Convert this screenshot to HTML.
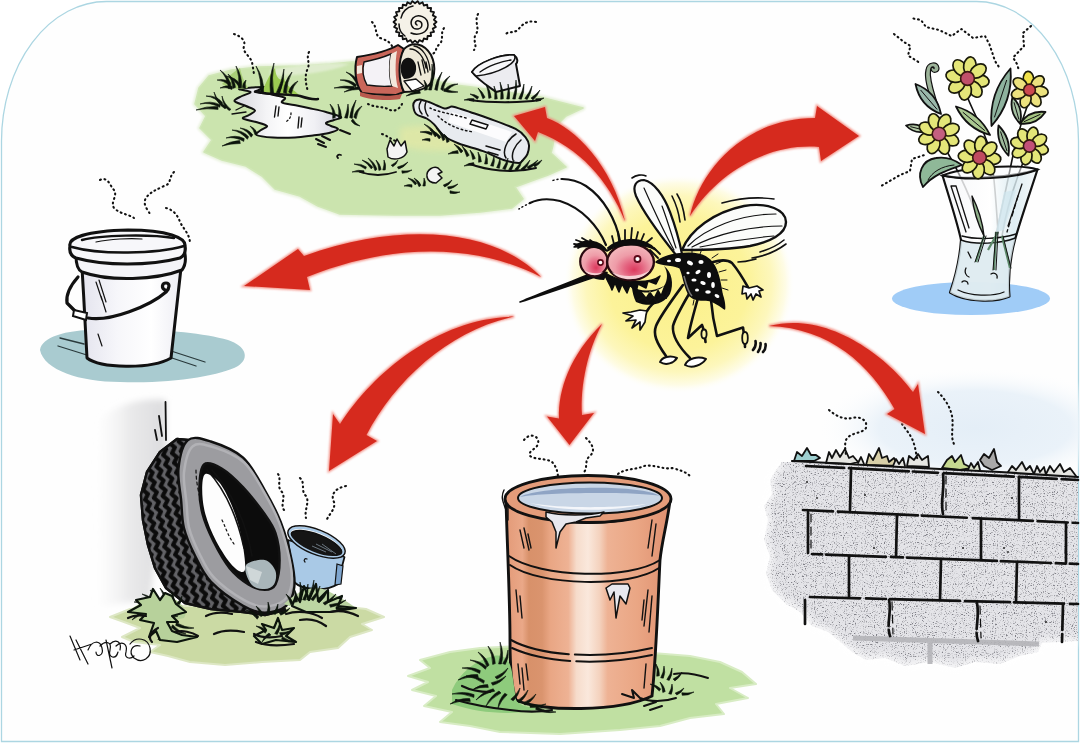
<!DOCTYPE html>
<html><head><meta charset="utf-8">
<style>
html,body{margin:0;padding:0;background:#fff;}
body{width:1080px;height:743px;overflow:hidden;font-family:"Liberation Sans",sans-serif;}
svg{display:block}
.k{fill:none;stroke:#111;stroke-linecap:round;stroke-linejoin:round}
</style></head><body>
<svg width="1080" height="743" viewBox="0 0 1080 743">
<defs>
<filter id="b1" x="-10%" y="-10%" width="120%" height="120%"><feGaussianBlur stdDeviation="1.2"/></filter>
<filter id="b3" x="-20%" y="-20%" width="140%" height="140%"><feGaussianBlur stdDeviation="3"/></filter>
<filter id="b8" x="-30%" y="-30%" width="160%" height="160%"><feGaussianBlur stdDeviation="8"/></filter>
<radialGradient id="glow" cx="50%" cy="50%" r="50%">
<stop offset="0" stop-color="#fdf48c"/><stop offset="0.55" stop-color="#fdf6a4"/><stop offset="0.8" stop-color="#fefbd8"/><stop offset="1" stop-color="#ffffff" stop-opacity="0"/>
</radialGradient>
</defs>
<rect width="1080" height="743" fill="#fff"/>
<!--FRAME-->
<path d="M1.5 741.5 V141 A105 140 0 0 1 106.5 1.5 H976.5 A102 140 0 0 1 1078.5 141 V741.5 Z" fill="#fefefe" stroke="#acd6e2" stroke-width="1.3"/>
<g id="sky">
<defs><radialGradient id="skyg" cx="50%" cy="50%" r="50%"><stop offset="0" stop-color="#e4eef7"/><stop offset="0.6" stop-color="#eaf2f9"/><stop offset="1" stop-color="#ffffff" stop-opacity="0"/></radialGradient></defs>
<ellipse cx="975" cy="428" rx="160" ry="62" fill="url(#skyg)"/>
</g>

<g id="glowg">
<defs><radialGradient id="glow2" cx="50%" cy="50%" r="50%">
<stop offset="0" stop-color="#fbf088"/><stop offset="0.6" stop-color="#fcf39a"/><stop offset="0.8" stop-color="#fdf7bc"/><stop offset="0.92" stop-color="#fefce6"/><stop offset="1" stop-color="#ffffff" stop-opacity="0"/>
</radialGradient></defs>
<ellipse cx="679" cy="284" rx="116" ry="110" fill="url(#glow2)"/>
</g>

<g id="trash">
<path d="M195 104 L199 88 L209 76 L232 70 L258 67 L300 66 L330 64 L352 62 L380 63 L420 72 L440 82 L455 85 L472 87 L500 91 L540 97 L583 108 L566 116 L556 126 L553 145 L551 153 L566 167 L548 175 L534 180 L515 187 L523 199 L512 208 L480 212 L440 215 L395 215 L340 214 L318 206 L300 196 L275 189 L262 176 L246 166 L222 160 L204 152 L212 140 L200 128 L206 116 Z" fill="#dcebc8" stroke="#e8f2dc" stroke-width="5" stroke-linejoin="round" filter="url(#b1)"/>
<path d="M195 104 L199 88 L209 76 L232 70 L258 67 L300 66 L330 64 L352 62 L380 63 L420 72 L440 82 L455 85 L472 87 L500 91 L540 97 L583 108 L566 116 L556 126 L553 145 L551 153 L566 167 L548 175 L534 180 L515 187 L523 199 L512 208 L480 212 L440 215 L395 215 L340 214 L318 206 L300 196 L275 189 L262 176 L246 166 L222 160 L204 152 L212 140 L200 128 L206 116 Z" fill="#cbe4ae" stroke="#d0e7b6" stroke-width="1.500" stroke-linejoin="round"/>
<path d="M400 128 C430 123 470 128 490 140 C470 152 430 154 400 146 Z" fill="#e2e8a6" opacity="0.8" filter="url(#b3)"/>
<path d="M270 70 C300 64 330 62 350 64 C330 72 300 76 270 76 Z" fill="#e4efd6" opacity="0.8" filter="url(#b1)"/>
<defs><linearGradient id="pg" x1="0" x2="1"><stop offset="0" stop-color="#d6d6dc"/><stop offset="0.3" stop-color="#f4f4f6"/><stop offset="0.5" stop-color="#ffffff"/><stop offset="0.75" stop-color="#f0f0f4"/><stop offset="1" stop-color="#d2d2dc"/></linearGradient></defs>
<path d="M239.0 89.0 C238.8 89.8 250.0 90.8 250.5 92.0 C251.0 93.2 244.7 94.5 242.0 96.0 C239.3 97.5 233.8 99.3 234.5 101.0 C235.2 102.7 242.6 104.4 246.0 106.0 C249.4 107.6 254.5 109.0 255.0 110.5 C255.5 112.0 251.0 113.7 249.0 115.0 C247.0 116.3 241.8 117.3 243.0 118.5 C244.2 119.7 252.0 120.8 256.0 122.0 C260.0 123.2 266.2 124.7 267.0 126.0 C267.8 127.3 262.8 128.5 261.0 130.0 C259.2 131.5 254.5 133.8 256.5 135.0 C258.5 136.2 266.6 137.1 273.0 137.5 C279.4 137.9 288.3 137.8 295.0 137.5 C301.7 137.2 307.3 136.2 313.0 135.5 C318.7 134.8 324.8 134.1 329.0 133.0 C333.2 131.9 337.7 130.2 338.0 129.0 C338.3 127.8 333.0 127.0 331.0 126.0 C329.0 125.0 325.5 124.0 326.0 123.0 C326.5 122.0 331.5 121.0 334.0 120.0 C336.5 119.0 342.3 118.3 341.0 117.0 C339.7 115.7 331.4 113.5 326.0 112.0 C320.6 110.5 313.8 109.2 308.5 108.0 C303.2 106.8 298.4 105.9 294.0 105.0 C289.6 104.1 283.5 103.7 282.0 102.5 C280.5 101.3 286.0 99.2 285.0 98.0 C284.0 96.8 279.0 96.2 276.0 95.5 C273.0 94.8 270.5 94.1 267.0 93.5 C263.5 92.9 256.2 92.7 255.0 92.0 C253.8 91.3 258.5 90.3 260.0 89.5 C261.5 88.7 265.3 87.3 264.0 87.0 C262.7 86.7 256.2 87.2 252.0 87.5 C247.8 87.8 239.2 88.2 239.0 89.0 Z" fill="url(#pg)" stroke="#111" stroke-width="2" stroke-linejoin="round"/>
<path class="k" stroke-width="1.400" d="M276 106 L274.500 117 M279 107 L278 116 M299 117 L298 128 M302 118 L301 127"/>
<path class="k" stroke-width="1.300" stroke-dasharray="1.500 2.500" d="M291 113 C291 118 288 121 285 122"/>
<path d="M262 92 C267 80 270 74 275 68 C276 78 280 82 284 78 C286 86 292 88 299 95 C286 96 272 94 262 92 Z" fill="#9ccb52"/>
<path d="M222 84 C228 76 234 72 240 68 C242 78 246 84 248 88 C238 90 228 88 222 84 Z" fill="#a9cf78"/>
<path d="M263.6 92.7 Q264.3 78.3 256.0 66.0 Q261.8 78.9 260.4 93.3 Z" fill="#0c140c" stroke="#0c140c" stroke-width="0.6" stroke-linejoin="round"/><path d="M273.6 93.1 Q271.3 77.9 274.0 63.0 Q268.7 77.7 270.4 92.9 Z" fill="#0c140c" stroke="#0c140c" stroke-width="0.6" stroke-linejoin="round"/><path d="M279.6 93.4 Q284.6 81.9 284.0 69.0 Q282.2 81.3 276.4 92.6 Z" fill="#0c140c" stroke="#0c140c" stroke-width="0.6" stroke-linejoin="round"/><path d="M286.5 93.5 Q286.6 81.9 292.0 72.0 Q284.1 81.0 283.5 92.5 Z" fill="#0c140c" stroke="#0c140c" stroke-width="0.6" stroke-linejoin="round"/><path d="M291.3 93.9 Q292.7 86.1 298.0 81.0 Q290.5 84.7 288.7 92.1 Z" fill="#0c140c" stroke="#0c140c" stroke-width="0.6" stroke-linejoin="round"/>
<path class="k" stroke-width="2.400" d="M258 92 C268 95 290 94 300 96 C306 98 312 100 318 99"/>
<path d="M231.3 87.3 Q229.6 76.4 220.0 70.0 Q227.6 77.6 228.7 88.7 Z" fill="#0c140c" stroke="#0c140c" stroke-width="0.6" stroke-linejoin="round"/><path d="M235.4 87.4 Q234.9 79.3 228.0 74.0 Q232.7 80.3 232.6 88.6 Z" fill="#0c140c" stroke="#0c140c" stroke-width="0.6" stroke-linejoin="round"/><path d="M241.5 87.7 Q242.5 76.2 236.0 66.0 Q240.1 76.6 238.5 88.3 Z" fill="#0c140c" stroke="#0c140c" stroke-width="0.6" stroke-linejoin="round"/><path d="M245.5 88.4 Q244.6 83.9 246.0 80.0 Q242.2 83.3 242.5 87.6 Z" fill="#0c140c" stroke="#0c140c" stroke-width="0.6" stroke-linejoin="round"/>
<path d="M230.4 82.7 Q224.6 78.3 217.0 80.0 Q224.0 80.5 229.6 85.3 Z" fill="#0c140c" stroke="#0c140c" stroke-width="0.6" stroke-linejoin="round"/>
<path d="M232.0 86.6 Q226.0 84.5 220.0 88.0 Q226.0 86.7 232.0 89.4 Z" fill="#0c140c" stroke="#0c140c" stroke-width="0.6" stroke-linejoin="round"/>
<path d="M240.8 84.9 Q235.7 77.3 226.0 76.0 Q234.3 79.1 239.2 87.1 Z" fill="#0c140c" stroke="#0c140c" stroke-width="0.6" stroke-linejoin="round"/>
<path d="M222.6 102.8 Q216.5 95.1 206.0 96.0 Q215.5 96.9 221.4 105.2 Z" fill="#0c140c" stroke="#0c140c" stroke-width="0.6" stroke-linejoin="round"/>
<path d="M220.1 104.7 Q210.5 100.0 200.0 104.0 Q210.3 102.0 219.9 107.3 Z" fill="#0c140c" stroke="#0c140c" stroke-width="0.6" stroke-linejoin="round"/>
<path d="M217.9 106.6 Q206.7 105.7 196.0 110.0 Q206.9 107.9 218.1 109.4 Z" fill="#0c140c" stroke="#0c140c" stroke-width="0.6" stroke-linejoin="round"/>
<path d="M227.0 107.2 Q217.6 101.8 214.0 92.0 Q216.0 103.0 225.0 108.8 Z" fill="#0c140c" stroke="#0c140c" stroke-width="0.6" stroke-linejoin="round"/>
<path d="M231.0 109.4 Q224.0 104.1 222.0 96.0 Q222.4 105.1 229.0 110.6 Z" fill="#0c140c" stroke="#0c140c" stroke-width="0.6" stroke-linejoin="round"/>
<path d="M252.8 134.8 Q248.2 128.7 240.0 128.0 Q247.0 130.5 251.2 137.2 Z" fill="#0c140c" stroke="#0c140c" stroke-width="0.6" stroke-linejoin="round"/>
<path d="M248.6 136.7 Q242.1 129.8 232.0 130.0 Q241.1 131.8 247.4 139.3 Z" fill="#0c140c" stroke="#0c140c" stroke-width="0.6" stroke-linejoin="round"/>
<path d="M244.2 138.6 Q235.5 134.3 226.0 138.0 Q235.3 136.5 243.8 141.4 Z" fill="#0c140c" stroke="#0c140c" stroke-width="0.6" stroke-linejoin="round"/>
<path d="M239.7 140.5 Q230.3 141.0 222.0 146.0 Q230.9 143.4 240.3 143.5 Z" fill="#0c140c" stroke="#0c140c" stroke-width="0.6" stroke-linejoin="round"/>
<path d="M257.0 133.2 Q255.4 128.2 250.0 126.0 Q253.8 129.4 255.0 134.8 Z" fill="#0c140c" stroke="#0c140c" stroke-width="0.6" stroke-linejoin="round"/>
<path class="k" stroke-width="1.300" d="M232 114 L246 112 M236 110 L244 106"/>
<path d="M335.3 117.6 Q335.9 109.9 330.0 104.0 Q333.7 110.5 332.7 118.4 Z" fill="#0c140c" stroke="#0c140c" stroke-width="0.6" stroke-linejoin="round"/><path d="M341.4 117.8 Q341.5 110.6 338.0 104.0 Q339.3 111.0 338.6 118.2 Z" fill="#0c140c" stroke="#0c140c" stroke-width="0.6" stroke-linejoin="round"/><path d="M347.4 118.2 Q349.5 111.4 348.0 104.0 Q347.3 111.0 344.6 117.8 Z" fill="#0c140c" stroke="#0c140c" stroke-width="0.6" stroke-linejoin="round"/><path d="M352.3 118.4 Q352.8 108.8 356.0 100.0 Q350.6 108.2 349.7 117.6 Z" fill="#0c140c" stroke="#0c140c" stroke-width="0.6" stroke-linejoin="round"/><path d="M356.2 118.7 Q357.1 111.2 362.0 106.0 Q355.1 110.0 353.8 117.3 Z" fill="#0c140c" stroke="#0c140c" stroke-width="0.6" stroke-linejoin="round"/>
<path d="M351.2 121.0 Q354.2 125.4 360.0 126.0 Q355.4 123.8 352.8 119.0 Z" fill="#0c140c" stroke="#0c140c" stroke-width="0.6" stroke-linejoin="round"/>
<path class="k" stroke-width="2" d="M316 139 L324 143 M318 144 L326 147 M322 136 L330 140 M340 130 L350 134"/>
<path d="M356.5 84.7 Q349.6 78.8 340.0 80.0 Q348.8 80.8 355.5 87.3 Z" fill="#0c140c" stroke="#0c140c" stroke-width="0.6" stroke-linejoin="round"/>
<path d="M354.0 86.6 Q344.0 84.9 334.0 88.0 Q344.0 87.1 354.0 89.4 Z" fill="#0c140c" stroke="#0c140c" stroke-width="0.6" stroke-linejoin="round"/>
<path d="M359.0 83.0 Q355.2 74.8 346.0 72.0 Q353.6 76.4 357.0 85.0 Z" fill="#0c140c" stroke="#0c140c" stroke-width="0.6" stroke-linejoin="round"/>
<path d="M359.7 86.7 Q351.3 87.4 344.0 92.0 Q351.9 89.4 360.3 89.3 Z" fill="#0c140c" stroke="#0c140c" stroke-width="0.6" stroke-linejoin="round"/>
<path d="M436.5 22.0 L433.9 24.2 L435.9 27.0 L432.8 28.6 L434.0 31.8 L430.6 32.6 L431.1 36.0 L427.6 35.9 L427.2 39.3 L423.8 38.5 L422.6 41.7 L419.5 40.1 L417.6 42.9 L415.0 40.6 L412.4 42.9 L410.5 40.1 L407.4 41.7 L406.2 38.5 L402.8 39.3 L402.4 35.9 L398.9 36.0 L399.4 32.6 L396.0 31.8 L397.2 28.6 L394.1 27.0 L396.1 24.2 L393.5 22.0 L396.1 19.8 L394.1 17.0 L397.2 15.4 L396.0 12.2 L399.4 11.4 L398.9 8.0 L402.4 8.1 L402.8 4.7 L406.2 5.5 L407.4 2.3 L410.5 3.9 L412.4 1.1 L415.0 3.4 L417.6 1.1 L419.5 3.9 L422.6 2.3 L423.8 5.5 L427.2 4.7 L427.6 8.1 L431.1 8.0 L430.6 11.4 L434.0 12.2 L432.8 15.4 L435.9 17.0 L433.9 19.8 Z" fill="#f5f2e8" stroke="#111" stroke-width="1.800" stroke-linejoin="round"/>
<path class="k" stroke-width="1.500" d="M417 25 C414 23 416 20 419 21 C423 22 423 28 418 29 C412 30 409 23 413 18 C418 13 428 17 428 25 C428 33 418 36 411 33 M401 18 C402 12 407 7 413 6 M399 24 C399 30 402 34 405 36"/>
<path d="M357 57 C370 55 388 51 398 45 L404 49 C400 58 398 80 404 92 L396 95 C384 95 368 94 362 93 C355 84 354 68 357 57 Z" fill="#c9665a" stroke="#111" stroke-width="2" stroke-linejoin="round"/>
<path d="M364 62 C374 60 384 57 391 54 C389 64 389 78 392 86 C384 87 374 86 367 85 C363 78 362 70 364 62 Z" fill="#f4f2f6" stroke="#111" stroke-width="1.400"/>
<path d="M391 54 L397 51 C395 62 395 78 398 88 L392 86 C389 78 389 64 391 54 Z" fill="#f3e8dc"/>
<path d="M357 66 L362 65 L362 73 L357 74 Z" fill="#f3e8dc"/>
<path d="M360 92 C372 96 390 97 402 94 L400 99 C388 101 370 100 360 96 Z" fill="#b85a4e"/>
<path d="M404 49 C412 41 424 43 431 55 C437 67 434 82 428 86 C420 92 408 92 404 92 C398 80 398 60 404 49 Z" fill="#eee9d8" stroke="#111" stroke-width="2"/>
<path d="M402 62 C406 55 414 57 416 66 C417 75 412 79 404 79 C400 74 400 66 402 62 Z" fill="#111"/>
<path class="k" stroke-width="1.300" d="M410 49 C418 49 424 57 426 68 M414 46 C422 47 429 57 430 70 M418 62 L421 75 M422 60 L425 73 M426 62 L428 72"/>
<path d="M404 81 L416 79 L424 86 L412 91 Z" fill="#fff" stroke="#111" stroke-width="1.300" stroke-linejoin="round"/>
<path d="M427.4 89.7 Q428.1 84.4 424.0 80.0 Q425.9 84.8 424.6 90.3 Z" fill="#0c140c" stroke="#0c140c" stroke-width="0.6" stroke-linejoin="round"/><path d="M431.4 90.1 Q434.7 77.3 432.0 64.0 Q432.5 77.1 428.6 89.9 Z" fill="#0c140c" stroke="#0c140c" stroke-width="0.6" stroke-linejoin="round"/><path d="M437.3 90.4 Q438.3 80.8 442.0 72.0 Q436.1 80.0 434.7 89.6 Z" fill="#0c140c" stroke="#0c140c" stroke-width="0.6" stroke-linejoin="round"/><path d="M443.2 90.7 Q444.2 82.0 450.0 76.0 Q442.2 80.8 440.8 89.3 Z" fill="#0c140c" stroke="#0c140c" stroke-width="0.6" stroke-linejoin="round"/><path d="M446.6 91.3 Q451.3 85.6 458.0 84.0 Q450.3 83.6 445.4 88.7 Z" fill="#0c140c" stroke="#0c140c" stroke-width="0.6" stroke-linejoin="round"/>
<path d="M419.6 90.8 Q412.3 91.6 406.0 96.0 Q412.9 93.6 420.4 93.2 Z" fill="#0c140c" stroke="#0c140c" stroke-width="0.6" stroke-linejoin="round"/>
<path d="M443.8 91.3 Q450.7 93.4 458.0 92.0 Q450.9 91.4 444.2 88.7 Z" fill="#0c140c" stroke="#0c140c" stroke-width="0.6" stroke-linejoin="round"/>
<path d="M472 72 C476 64 500 54 514 55 C518 58 518 62 516 64 L520 86 L496 92 C488 86 478 80 472 72 Z" fill="#ececf0" stroke="#111" stroke-width="2" stroke-linejoin="round"/>
<path d="M472 72 C478 62 502 54 514 55 C520 62 498 74 476 76 Z" fill="#f7f7f9" stroke="#111" stroke-width="1.600"/>
<path d="M480 72 C488 66 502 61 511 60" class="k" stroke-width="1.300"/>
<path d="M478.6 96.8 Q474.9 94.3 470.0 94.0 Q473.9 96.1 477.4 99.2 Z" fill="#0c140c" stroke="#0c140c" stroke-width="0.6" stroke-linejoin="round"/>
<path d="M485.1 97.3 Q482.9 91.9 478.0 88.0 Q481.1 92.9 482.9 98.7 Z" fill="#0c140c" stroke="#0c140c" stroke-width="0.6" stroke-linejoin="round"/>
<path d="M491.2 97.6 Q490.4 90.3 486.0 84.0 Q488.4 90.9 488.8 98.4 Z" fill="#0c140c" stroke="#0c140c" stroke-width="0.6" stroke-linejoin="round"/>
<path d="M497.3 98.8 Q497.3 92.1 494.0 86.0 Q495.3 92.5 494.7 99.2 Z" fill="#0c140c" stroke="#0c140c" stroke-width="0.6" stroke-linejoin="round"/>
<path d="M503.3 98.8 Q503.7 90.2 500.0 82.0 Q501.7 90.4 500.7 99.2 Z" fill="#0c140c" stroke="#0c140c" stroke-width="0.6" stroke-linejoin="round"/>
<path d="M509.3 99.0 Q510.5 91.5 508.0 84.0 Q508.5 91.5 506.7 99.0 Z" fill="#0c140c" stroke="#0c140c" stroke-width="0.6" stroke-linejoin="round"/>
<path d="M515.3 99.1 Q517.9 89.8 516.0 80.0 Q515.9 89.6 512.7 98.9 Z" fill="#0c140c" stroke="#0c140c" stroke-width="0.6" stroke-linejoin="round"/>
<path d="M521.3 99.3 Q524.5 92.2 524.0 84.0 Q522.5 91.6 518.7 98.7 Z" fill="#0c140c" stroke="#0c140c" stroke-width="0.6" stroke-linejoin="round"/>
<path d="M527.2 99.5 Q531.2 93.5 532.0 86.0 Q529.4 92.7 524.8 98.5 Z" fill="#0c140c" stroke="#0c140c" stroke-width="0.6" stroke-linejoin="round"/>
<path d="M533.0 99.9 Q537.7 96.0 540.0 90.0 Q536.1 94.6 531.0 98.1 Z" fill="#0c140c" stroke="#0c140c" stroke-width="0.6" stroke-linejoin="round"/>
<path d="M474.0 98.7 Q469.0 98.0 464.0 100.0 Q469.0 100.0 474.0 101.3 Z" fill="#0c140c" stroke="#0c140c" stroke-width="0.6" stroke-linejoin="round"/>
<path d="M536.3 101.3 Q540.5 100.8 544.0 98.0 Q539.9 98.8 535.7 98.7 Z" fill="#0c140c" stroke="#0c140c" stroke-width="0.6" stroke-linejoin="round"/>
<path class="k" stroke-width="2.200" d="M470 100 C490 103 520 103 540 100"/>
<path d="M413.3 106.0 C413.1 103.8 414.0 102.1 415.0 101.0 C416.0 99.9 417.8 99.6 419.3 99.5 C420.8 99.4 422.3 100.0 424.0 100.5 C425.7 101.0 427.4 101.4 429.6 102.2 C431.8 103.0 434.5 104.5 437.0 105.5 C439.5 106.5 442.4 108.2 444.4 108.5 C446.4 108.8 447.5 107.8 449.0 107.5 C450.5 107.2 449.8 106.0 453.3 106.7 C456.8 107.5 464.1 110.0 470.0 112.0 C475.9 114.0 481.3 115.7 488.9 118.5 C496.5 121.3 509.4 125.7 515.6 128.9 C521.8 132.1 523.7 135.1 525.9 137.8 C528.1 140.5 528.8 142.5 529.0 145.2 C529.2 147.9 528.4 151.6 527.4 154.1 C526.4 156.6 524.5 158.5 523.0 160.0 C521.5 161.5 521.7 163.0 518.5 163.0 C515.3 163.0 509.6 162.0 503.7 160.0 C497.8 158.0 490.4 153.8 483.0 151.1 C475.6 148.4 465.7 146.2 459.3 143.7 C452.9 141.2 448.6 139.5 444.4 136.3 C440.2 133.1 437.1 127.4 434.1 124.4 C431.2 121.4 429.7 120.2 426.7 118.5 C423.7 116.8 418.5 116.2 416.3 114.1 C414.1 112.0 413.5 108.2 413.3 106.0 Z" fill="#e8ebef" stroke="#111" stroke-width="2" stroke-linejoin="round"/>
<path d="M452 112 L512 132 L506 142 L448 122 Z" fill="#fff" opacity="0.85"/>
<path class="k" stroke-width="1.500" d="M516 134 C506 140 502 152 506 158 M521 140 C514 146 511 154 513 160 M472 120 L488 125 L486 129 L470 124 Z M421 101 C418 106 419 111 422 114 M426 102 C424 106 425 112 428 116 M486 146 L500 150 M488 152 L498 155"/>
<path class="k" stroke-width="1.500" stroke-dasharray="1.500 3" d="M430 108 C438 112 452 114 466 118 M438 116 C446 124 458 130 474 132"/>
<path d="M436.9 135.1 Q432.5 127.5 424.0 124.0 Q431.1 128.9 435.1 136.9 Z" fill="#0c140c" stroke="#0c140c" stroke-width="0.6" stroke-linejoin="round"/>
<path d="M440.8 137.0 Q436.8 131.7 430.0 130.0 Q435.6 133.3 439.2 139.0 Z" fill="#0c140c" stroke="#0c140c" stroke-width="0.6" stroke-linejoin="round"/>
<path d="M445.1 139.3 Q442.7 132.2 436.0 128.0 Q440.9 133.4 442.9 140.7 Z" fill="#0c140c" stroke="#0c140c" stroke-width="0.6" stroke-linejoin="round"/>
<path d="M449.2 141.4 Q448.1 136.9 444.0 134.0 Q446.3 137.9 446.8 142.6 Z" fill="#0c140c" stroke="#0c140c" stroke-width="0.6" stroke-linejoin="round"/>
<path d="M432.2 132.7 Q426.5 130.2 420.0 132.0 Q426.1 132.2 431.8 135.3 Z" fill="#0c140c" stroke="#0c140c" stroke-width="0.6" stroke-linejoin="round"/>
<path d="M430.0 138.7 Q426.0 137.8 422.0 140.0 Q426.0 139.8 430.0 141.3 Z" fill="#0c140c" stroke="#0c140c" stroke-width="0.6" stroke-linejoin="round"/>
<path d="M463.0 151.0 Q459.6 146.4 454.0 144.0 Q458.0 148.0 461.0 153.0 Z" fill="#0c140c" stroke="#0c140c" stroke-width="0.6" stroke-linejoin="round"/>
<path d="M469.2 155.3 Q467.0 149.8 462.0 146.0 Q465.0 151.0 466.8 156.7 Z" fill="#0c140c" stroke="#0c140c" stroke-width="0.6" stroke-linejoin="round"/>
<path d="M475.3 158.4 Q473.9 153.6 470.0 150.0 Q471.9 154.6 472.7 159.6 Z" fill="#0c140c" stroke="#0c140c" stroke-width="0.6" stroke-linejoin="round"/>
<path d="M481.4 161.7 Q481.1 156.6 478.0 152.0 Q478.9 157.0 478.6 162.3 Z" fill="#0c140c" stroke="#0c140c" stroke-width="0.6" stroke-linejoin="round"/>
<path d="M487.4 164.0 Q488.1 159.0 486.0 154.0 Q485.9 159.0 484.6 164.0 Z" fill="#0c140c" stroke="#0c140c" stroke-width="0.6" stroke-linejoin="round"/>
<path d="M493.4 166.3 Q495.1 161.4 494.0 156.0 Q492.9 161.0 490.6 165.7 Z" fill="#0c140c" stroke="#0c140c" stroke-width="0.6" stroke-linejoin="round"/>
<path d="M499.4 168.3 Q501.1 163.4 500.0 158.0 Q498.9 163.0 496.6 167.7 Z" fill="#0c140c" stroke="#0c140c" stroke-width="0.6" stroke-linejoin="round"/>
<path d="M505.3 169.5 Q508.2 164.3 508.0 158.0 Q506.0 163.5 502.7 168.5 Z" fill="#0c140c" stroke="#0c140c" stroke-width="0.6" stroke-linejoin="round"/>
<path d="M511.3 170.5 Q514.0 165.8 514.0 160.0 Q512.0 165.0 508.7 169.5 Z" fill="#0c140c" stroke="#0c140c" stroke-width="0.6" stroke-linejoin="round"/>
<path d="M517.2 170.7 Q521.0 166.2 522.0 160.0 Q519.0 165.0 514.8 169.3 Z" fill="#0c140c" stroke="#0c140c" stroke-width="0.6" stroke-linejoin="round"/>
<path d="M523.1 170.9 Q527.9 166.5 530.0 160.0 Q526.1 165.1 520.9 169.1 Z" fill="#0c140c" stroke="#0c140c" stroke-width="0.6" stroke-linejoin="round"/>
<path d="M528.9 169.1 Q534.5 165.9 538.0 160.0 Q533.1 164.1 527.1 166.9 Z" fill="#0c140c" stroke="#0c140c" stroke-width="0.6" stroke-linejoin="round"/>
<path d="M457.7 150.6 Q452.6 150.9 448.0 154.0 Q453.0 153.1 458.3 153.4 Z" fill="#0c140c" stroke="#0c140c" stroke-width="0.6" stroke-linejoin="round"/>
<path d="M473.7 162.6 Q468.6 162.9 464.0 166.0 Q469.0 165.1 474.3 165.4 Z" fill="#0c140c" stroke="#0c140c" stroke-width="0.6" stroke-linejoin="round"/>
<path d="M534.8 167.1 Q539.3 164.7 542.0 160.0 Q537.9 162.9 533.2 164.9 Z" fill="#0c140c" stroke="#0c140c" stroke-width="0.6" stroke-linejoin="round"/>
<path class="k" stroke-width="2" d="M470 164 C486 170 512 174 536 168"/>
<path d="M387 149 L390 140 L394 146 L397 139 L401 146 L405 141 L407 152 C404 159 394 161 388 157 Z" fill="#f4f4f4" stroke="#111" stroke-width="1.500" stroke-linejoin="round"/>
<path d="M427 177 C426 169 434 166 438 168 L442 172 L438 174 L442 178 L436 183 C432 183 428 181 427 177 Z" fill="#f4f4f4" stroke="#111" stroke-width="1.500" stroke-linejoin="round"/>
<path d="M372.7 167.1 Q368.8 161.8 362.0 160.0 Q367.6 163.2 371.3 168.9 Z" fill="#0c140c" stroke="#0c140c" stroke-width="0.6" stroke-linejoin="round"/>
<path d="M377.0 169.3 Q374.6 162.3 368.0 158.0 Q373.0 163.3 375.0 170.7 Z" fill="#0c140c" stroke="#0c140c" stroke-width="0.6" stroke-linejoin="round"/>
<path d="M381.1 169.6 Q380.4 164.0 376.0 160.0 Q378.6 164.8 378.9 170.4 Z" fill="#0c140c" stroke="#0c140c" stroke-width="0.6" stroke-linejoin="round"/>
<path d="M385.2 170.0 Q386.5 165.0 384.0 160.0 Q384.5 165.0 382.8 170.0 Z" fill="#0c140c" stroke="#0c140c" stroke-width="0.6" stroke-linejoin="round"/>
<path d="M366.4 166.9 Q360.9 163.3 354.0 164.0 Q360.3 165.1 365.6 169.1 Z" fill="#0c140c" stroke="#0c140c" stroke-width="0.6" stroke-linejoin="round"/>
<path d="M364.0 170.8 Q358.0 169.2 352.0 172.0 Q358.0 171.2 364.0 173.2 Z" fill="#0c140c" stroke="#0c140c" stroke-width="0.6" stroke-linejoin="round"/>
<path d="M392.8 166.8 Q396.6 164.6 398.0 160.0 Q395.2 163.2 391.2 165.2 Z" fill="#0c140c" stroke="#0c140c" stroke-width="0.6" stroke-linejoin="round"/>
<path d="M398.6 169.0 Q404.4 167.3 408.0 162.0 Q403.4 165.7 397.4 167.0 Z" fill="#0c140c" stroke="#0c140c" stroke-width="0.6" stroke-linejoin="round"/>
<path d="M402.2 173.2 Q407.5 173.4 412.0 170.0 Q407.1 171.6 401.8 170.8 Z" fill="#0c140c" stroke="#0c140c" stroke-width="0.6" stroke-linejoin="round"/>
<path class="k" stroke-width="1.800" d="M360 172 C372 176 384 176 396 172 M338 158 C336 156 338 154 341 155"/>
<path d="M416.7 183.0 Q413.5 179.0 408.0 178.0 Q412.3 180.6 415.3 185.0 Z" fill="#0c140c" stroke="#0c140c" stroke-width="0.6" stroke-linejoin="round"/>
<path d="M421.0 185.3 Q419.0 180.5 414.0 178.0 Q417.4 181.7 419.0 186.7 Z" fill="#0c140c" stroke="#0c140c" stroke-width="0.6" stroke-linejoin="round"/>
<path d="M425.2 186.0 Q426.2 182.0 424.0 178.0 Q424.2 182.0 422.8 186.0 Z" fill="#0c140c" stroke="#0c140c" stroke-width="0.6" stroke-linejoin="round"/>
<path d="M412.0 184.8 Q408.0 183.8 404.0 186.0 Q408.0 185.8 412.0 187.2 Z" fill="#0c140c" stroke="#0c140c" stroke-width="0.6" stroke-linejoin="round"/>
<path d="M444.7 187.0 Q449.5 185.0 452.0 180.0 Q448.3 183.4 443.3 185.0 Z" fill="#0c140c" stroke="#0c140c" stroke-width="0.6" stroke-linejoin="round"/>
<path d="M448.4 189.1 Q454.0 188.4 458.0 184.0 Q453.2 186.6 447.6 186.9 Z" fill="#0c140c" stroke="#0c140c" stroke-width="0.6" stroke-linejoin="round"/>
<path d="M450.0 193.2 Q455.0 194.5 460.0 192.0 Q455.0 192.5 450.0 190.8 Z" fill="#0c140c" stroke="#0c140c" stroke-width="0.6" stroke-linejoin="round"/>
<g class="k" stroke="#2c2c2c" stroke-width="2.100" stroke-dasharray="0.900 3.700">
<path d="M234 34 C240 36 246 40 244 46 C242 52 250 56 252 62 L254 74"/>
<path d="M309 52 C306 58 310 62 308 68 C304 76 306 84 308 92"/>
<path d="M372 22 C378 28 374 34 380 38 C386 40 390 42 392 46"/>
<path d="M444 28 C440 34 444 38 440 44 C434 48 438 52 432 54"/>
<path d="M478 14 C474 22 480 28 476 34 C472 40 478 46 474 50"/>
<path d="M536 22 C528 20 522 24 518 30 C512 34 508 30 504 36"/>
<path d="M368 104 C376 108 384 106 390 110 C396 112 400 108 402 104"/>
<path d="M382 134 C388 136 392 140 398 142"/>
</g>
</g>
<g id="bucket">
<defs><linearGradient id="bk" x1="0" x2="1"><stop offset="0" stop-color="#e4e4ee"/><stop offset="0.35" stop-color="#f6f6fa"/><stop offset="0.7" stop-color="#ffffff"/><stop offset="1" stop-color="#eeeef4"/></linearGradient></defs>
<!-- puddle -->
<path d="M40 350 C42 336 70 328 110 330 C150 328 200 332 228 340 C246 346 250 358 238 366 C220 376 170 384 120 382 C80 382 44 370 40 350 Z" fill="#a9cbd0"/>
<path d="M60 338 L84 344 M58 346 L90 356 M168 350 L205 362 M172 358 L196 366" stroke="#2a3a3c" stroke-width="1.300" fill="none" stroke-linecap="round"/>
<!-- body -->
<path d="M82 268 C84 300 86 340 87 358 C100 368 150 370 171 358 C174 330 178 296 181 268 Z" fill="url(#bk)" stroke="#111" stroke-width="3" stroke-linejoin="round"/>
<!-- lower ring -->
<path d="M76 256 C76 266 78 270 82 272 C110 282 156 280 182 270 C185 266 186 260 185 254 Z" fill="#f4f4f8" stroke="#111" stroke-width="3" stroke-linejoin="round"/>
<!-- top rim -->
<path d="M70 246 C68 238 86 231 128 230 C168 230 186 238 185 246 C186 252 184 256 180 258 C150 266 104 266 76 258 C71 256 69 252 70 246 Z" fill="#f7f7fa" stroke="#111" stroke-width="3.200" stroke-linejoin="round"/>
<path class="k" stroke-width="2.400" d="M72 247 C100 255 156 254 184 246 M82 240 C100 235 150 234 174 238"/>
<path class="k" stroke-width="1.200" d="M96 242 C110 239 130 238 142 239"/>
<!-- handle -->
<path class="k" stroke-width="3.200" d="M78 277 C70 286 66 296 67 303 L76 312 M88 318 C110 322 150 306 166 292 C170 288 170 283 166 283 C162 283 161 288 165 290"/>
<path d="M74 310 L87 313 L86 320 L73 316 Z" fill="#fff" stroke="#111" stroke-width="2"/>
<path class="k" stroke-width="1.200" d="M96 282 L102 300 M99 280 L106 302 M101 296 L106 312 M98 334 L102 346"/>
<!-- flies -->
<g class="k" stroke="#2c2c2c" stroke-width="2.100" stroke-dasharray="0.900 3.700">
<path d="M100 180 C108 176 110 186 114 190 C118 196 110 202 114 208 C120 214 128 214 134 218"/>
<path d="M174 172 C168 178 172 184 164 186 C156 190 150 192 146 198 C142 204 148 210 150 214"/>
<path d="M166 208 C174 210 178 216 180 222 C184 230 190 234 190 244"/>
</g>
</g>

<g id="tire">
<defs><linearGradient id="wsh" x1="0" x2="1"><stop offset="0" stop-color="#f4f4f4" stop-opacity="0"/><stop offset="0.5" stop-color="#e9e9ea"/><stop offset="1" stop-color="#dcdcde"/></linearGradient></defs>
<path d="M100 420 C120 400 150 398 166 400 L166 470 L150 600 L98 606 C92 560 104 520 96 480 Z" fill="url(#wsh)" filter="url(#b3)"/>
<path class="k" stroke-width="1.800" d="M165.500 402 L166 440 M159 416 L162 436 M155 430 L157 440"/>
<path d="M110 617 L130 609 L160 606 L200 606 L260 610 L300 607 L340 606 L366 609 L384 617 L362 624 L372 630 L350 637 L338 648 L310 652 L300 660 L262 662 L225 665 L190 662 L168 656 L150 652 L160 645 L134 642 L122 637 L140 628 L124 622 Z" fill="#cbdaa4" stroke="#dde7c4" stroke-width="2" stroke-linejoin="round"/>
<path d="M288 540 C290 554 292 568 294 582 C302 590 326 592 338 584 C340 574 342 566 344.500 557 Z" fill="#a9c9e6" stroke="#111" stroke-width="1.800" stroke-linejoin="round"/>
<ellipse cx="316.500" cy="544" rx="27.500" ry="9.500" transform="rotate(22 316.500 544)" fill="#151515" stroke="#111" stroke-width="1.600"/>
<ellipse cx="316.500" cy="542.500" rx="29" ry="10.800" transform="rotate(22 316.500 542.500)" fill="none" stroke="#a9c9e6" stroke-width="2.400"/>
<ellipse cx="316.500" cy="542" rx="30.500" ry="12.300" transform="rotate(22 316.500 542)" fill="none" stroke="#111" stroke-width="1.500"/>
<path d="M337 564 L343 566 L341 584 L335 585 Z" fill="#7fa6cf" stroke="#111" stroke-width="1.200"/>
<path class="k" stroke-width="1.200" d="M305 562 C303 560 305 558 307 559"/>
<path d="M312 546 L326 552 M316 544 L332 552 M322 544 L336 554" stroke="#6a7680" stroke-width="1" fill="none"/>
<path d="M188 440 L177 439 L160 452 L147 472 L141 495 L143 520 L148 545 L155 568 L166 588 L185 603 L211 609 L243 612 L265 615 L285 610 L260 560 L200 470 Z" fill="#5a5a5e" stroke="#111" stroke-width="2.500" stroke-linejoin="round"/>
<clipPath id="trc"><path d="M188 440 L177 439 L160 452 L147 472 L141 495 L143 520 L148 545 L155 568 L166 588 L185 603 L211 609 L243 612 L265 615 L285 610 L260 560 L200 470 Z"/></clipPath>
<pattern id="zz" width="9" height="10" patternUnits="userSpaceOnUse" patternTransform="rotate(-12)"><rect width="9" height="10" fill="#626266"/><path d="M2 -1 L6 4 L2 9 L6 14" stroke="#0b0b0b" stroke-width="4.200" fill="none" stroke-linejoin="round"/></pattern>
<path d="M188 440 L177 439 L160 452 L147 472 L141 495 L143 520 L148 545 L155 568 L166 588 L185 603 L211 609 L243 612 L265 615 L285 610 L260 560 L200 470 Z" fill="url(#zz)" stroke="#111" stroke-width="2.500" stroke-linejoin="round"/>
<path d="M187.9 440.2 C193.3 435.7 201.6 438.6 210.8 441.5 C220.0 444.4 234.1 449.6 243.1 457.7 C252.1 465.8 258.4 479.2 264.7 490.0 C271.0 500.8 276.3 510.6 280.8 522.3 C285.3 534.0 289.4 549.2 291.6 560.0 C293.9 570.8 295.2 579.4 294.3 587.0 C293.4 594.6 291.1 601.5 286.2 605.8 C281.3 610.1 271.9 612.6 264.7 612.6 C257.5 612.6 252.1 611.0 243.1 605.8 C234.1 600.6 218.9 590.1 210.8 581.6 C202.7 573.1 199.1 563.7 194.6 554.7 C190.1 545.7 186.1 536.7 183.9 527.7 C181.7 518.7 182.1 510.7 181.2 500.8 C180.3 490.9 177.4 478.6 178.5 468.5 C179.6 458.4 182.5 444.7 187.9 440.2 Z" fill="#9c9ca0" stroke="#111" stroke-width="2.400"/>
<path d="M192.8 446.2 C197.8 442.0 205.5 444.7 214.1 447.4 C222.6 450.1 235.7 455.0 244.1 462.5 C252.5 470.0 258.3 482.5 264.2 492.5 C270.0 502.5 275.0 511.7 279.2 522.6 C283.3 533.4 287.1 547.6 289.2 557.6 C291.3 567.6 292.6 575.6 291.7 582.7 C290.9 589.8 288.8 596.2 284.2 600.2 C279.6 604.2 270.9 606.5 264.2 606.5 C257.5 606.5 252.5 605.0 244.1 600.2 C235.7 595.4 221.6 585.6 214.1 577.7 C206.5 569.8 203.2 561.0 199.0 552.7 C194.8 544.3 191.1 535.9 189.0 527.6 C187.0 519.2 187.4 511.7 186.5 502.6 C185.7 493.4 183.0 481.9 184.0 472.5 C185.1 463.1 187.8 450.4 192.8 446.2 Z" fill="none" stroke="#b2b2b6" stroke-width="2.500"/>
<path d="M204.1 464.4 C207.8 461.3 215.1 464.7 221.6 468.5 C228.1 472.3 235.9 479.7 243.1 487.3 C250.3 494.9 259.3 506.7 264.7 514.3 C270.1 521.9 272.9 525.5 275.4 533.1 C277.9 540.7 279.5 551.5 279.5 560.0 C279.5 568.5 277.9 579.3 275.4 584.3 C272.9 589.2 269.2 589.7 264.7 589.7 C260.2 589.7 254.3 587.9 248.5 584.3 C242.7 580.7 235.5 575.3 229.7 568.1 C223.9 560.9 218.0 550.2 213.5 541.2 C209.0 532.2 205.0 523.3 202.7 514.3 C200.4 505.3 199.3 495.6 199.5 487.3 C199.7 479.0 200.4 467.5 204.1 464.4 Z" fill="#0c0c0c" stroke="#111" stroke-width="2.600"/>
<path d="M205.4 473.9 C208.2 472.6 214.9 477.5 218.9 482.0 C222.9 486.5 226.6 494.1 229.7 500.8 C232.8 507.5 235.5 514.7 237.7 522.3 C239.9 529.9 242.0 538.5 243.1 546.6 C244.2 554.7 246.3 567.7 244.5 570.8 C242.7 573.9 237.0 570.3 232.3 565.4 C227.6 560.5 220.7 549.7 216.2 541.2 C211.7 532.7 207.7 522.8 205.4 514.3 C203.1 505.8 202.2 496.7 202.2 490.0 C202.2 483.3 202.6 475.2 205.4 473.9 Z" fill="#fdfdfd"/>
<path d="M245.8 565.4 C248.1 561.4 259.8 559.1 264.7 560.0 C269.6 560.9 273.8 566.8 275.4 570.8 C277.0 574.8 275.9 581.2 274.1 584.3 C272.3 587.3 268.5 589.1 264.7 589.1 C260.9 589.1 254.3 588.2 251.2 584.3 C248.0 580.3 243.6 569.4 245.8 565.4 Z" fill="#a9b6ba"/>
<path d="M246 566 L262 572 L258 584 L250 580 Z" fill="#dfe6e6" opacity="0.700"/>
<path class="k" stroke-width="1.600" d="M207 470 C222 486 236 512 244 548 M212 470 C230 490 246 520 252 556"/>
<path class="k" stroke-width="1.200" stroke-dasharray="2 3" d="M222 520 C226 528 228 536 234 544"/>
<path class="k" stroke-width="1.200" stroke-dasharray="3 3" d="M196 470 C196 480 198 490 200 498"/>
<path d="M128 612 C140 600 160 594 176 600 C184 606 188 612 184 618 C170 622 146 620 128 612 Z" fill="#b4cf98"/>
<path d="M284 604 C296 592 312 584 326 590 C338 596 348 602 356 608 C336 612 304 612 284 604 Z" fill="#b9d3a0"/>
<path d="M149.7 606.6 Q138.2 605.6 128.0 612.0 Q138.6 607.8 150.3 609.4 Z" fill="#0c140c" stroke="#0c140c" stroke-width="0.6" stroke-linejoin="round"/>
<path d="M152.3 604.6 Q143.8 600.2 134.0 602.0 Q143.4 602.4 151.7 607.4 Z" fill="#0c140c" stroke="#0c140c" stroke-width="0.6" stroke-linejoin="round"/>
<path d="M156.8 602.9 Q151.2 596.0 142.0 594.0 Q149.8 597.8 155.2 605.1 Z" fill="#0c140c" stroke="#0c140c" stroke-width="0.6" stroke-linejoin="round"/>
<path d="M161.1 603.2 Q158.0 594.8 150.0 590.0 Q156.2 596.2 158.9 604.8 Z" fill="#0c140c" stroke="#0c140c" stroke-width="0.6" stroke-linejoin="round"/>
<path d="M167.3 601.4 Q166.1 593.7 160.0 588.0 Q164.1 594.5 164.7 602.6 Z" fill="#0c140c" stroke="#0c140c" stroke-width="0.6" stroke-linejoin="round"/>
<path d="M173.4 602.0 Q174.6 597.0 172.0 592.0 Q172.4 597.0 170.6 602.0 Z" fill="#0c140c" stroke="#0c140c" stroke-width="0.6" stroke-linejoin="round"/>
<path d="M179.3 604.6 Q182.2 601.1 182.0 596.0 Q180.2 600.1 176.7 603.4 Z" fill="#0c140c" stroke="#0c140c" stroke-width="0.6" stroke-linejoin="round"/>
<path d="M145.3 610.8 Q137.2 612.9 132.0 620.0 Q138.4 614.9 146.7 613.2 Z" fill="#0c140c" stroke="#0c140c" stroke-width="0.6" stroke-linejoin="round"/>
<path d="M160.0 617.4 Q169.0 619.8 178.0 616.0 Q169.0 617.6 160.0 614.6 Z" fill="#0c140c" stroke="#0c140c" stroke-width="0.6" stroke-linejoin="round"/>
<path d="M163.3 624.8 Q155.2 626.9 150.0 634.0 Q156.4 628.9 164.7 627.2 Z" fill="#0c140c" stroke="#0c140c" stroke-width="0.6" stroke-linejoin="round"/>
<path d="M166.9 627.1 Q160.3 631.8 158.0 640.0 Q162.1 633.2 169.1 628.9 Z" fill="#0c140c" stroke="#0c140c" stroke-width="0.6" stroke-linejoin="round"/>
<path d="M171.3 627.2 Q177.2 633.1 186.0 634.0 Q178.4 631.1 172.7 624.8 Z" fill="#0c140c" stroke="#0c140c" stroke-width="0.6" stroke-linejoin="round"/>
<path d="M175.7 625.4 Q184.2 629.8 194.0 628.0 Q184.6 627.6 176.3 622.6 Z" fill="#0c140c" stroke="#0c140c" stroke-width="0.6" stroke-linejoin="round"/>
<path d="M128 612 L141 605 L136 600 L150 597 L153 589 L160 600 L165 593 L172 596 L176 604 L186 612 L172 616 L178 622 L167 622 L172 631 L182 635 L197 637 L177 642 L160 640 L156 631 L149 637 L154 623 L140 620 L146 614 Z" fill="#b7d19b" stroke="#0c140c" stroke-width="2.200" stroke-linejoin="round"/>
<path d="M292 606 L296 596 L300 602 L304 586 L309 600 L316 584 L318 600 L328 590 L328 602 L342 596 L338 606 L356 608 L330 612 L306 612 Z" fill="#bcd5a2" stroke="#0c140c" stroke-width="2.200" stroke-linejoin="round"/>
<path d="M254 636 L266 630 L262 624 L274 628 L278 618 L282 630 L294 628 L286 636 L296 642 L276 640 L262 644 Z" fill="#bdd3a0" stroke="#0c140c" stroke-width="2.200" stroke-linejoin="round"/>
<path class="k" stroke-width="2.200" d="M128 618 C134 615 140 615 146 616 M158 628 C150 632 148 638 152 642 M176 632 C182 630 192 632 198 636"/>
<path d="M258.8 616.8 Q253.8 611.3 246.0 610.0 Q252.6 613.1 257.2 619.2 Z" fill="#0c140c" stroke="#0c140c" stroke-width="0.6" stroke-linejoin="round"/>
<path d="M263.2 615.3 Q261.5 609.5 256.0 606.0 Q259.5 610.7 260.8 616.7 Z" fill="#0c140c" stroke="#0c140c" stroke-width="0.6" stroke-linejoin="round"/>
<path d="M269.4 614.0 Q270.9 608.0 268.0 602.0 Q268.7 608.0 266.6 614.0 Z" fill="#0c140c" stroke="#0c140c" stroke-width="0.6" stroke-linejoin="round"/>
<path d="M275.3 614.5 Q278.5 610.0 278.0 604.0 Q276.5 609.2 272.7 613.5 Z" fill="#0c140c" stroke="#0c140c" stroke-width="0.6" stroke-linejoin="round"/>
<path d="M280.7 615.2 Q286.5 613.5 290.0 608.0 Q285.3 611.5 279.3 612.8 Z" fill="#0c140c" stroke="#0c140c" stroke-width="0.6" stroke-linejoin="round"/>
<path d="M266.7 630.8 Q262.5 626.5 256.0 626.0 Q261.3 628.5 265.3 633.2 Z" fill="#0c140c" stroke="#0c140c" stroke-width="0.6" stroke-linejoin="round"/>
<path d="M269.0 633.0 Q264.0 636.0 262.0 642.0 Q265.6 637.6 271.0 635.0 Z" fill="#0c140c" stroke="#0c140c" stroke-width="0.6" stroke-linejoin="round"/>
<path d="M277.3 634.4 Q280.9 629.0 280.0 622.0 Q278.7 628.2 274.7 633.6 Z" fill="#0c140c" stroke="#0c140c" stroke-width="0.6" stroke-linejoin="round"/>
<path d="M280.4 635.3 Q287.0 634.9 292.0 630.0 Q286.2 632.7 279.6 632.7 Z" fill="#0c140c" stroke="#0c140c" stroke-width="0.6" stroke-linejoin="round"/>
<path d="M281.6 639.3 Q288.1 643.2 296.0 642.0 Q288.7 641.0 282.4 636.7 Z" fill="#0c140c" stroke="#0c140c" stroke-width="0.6" stroke-linejoin="round"/>
<path class="k" stroke-width="2.200" d="M254 634 C262 638 272 638 282 636 M256 642 C266 646 280 646 294 644"/>
<path d="M293.2 603.3 Q291.2 597.7 286.0 594.0 Q289.2 598.9 290.8 604.7 Z" fill="#0c140c" stroke="#0c140c" stroke-width="0.6" stroke-linejoin="round"/>
<path d="M297.4 601.8 Q297.8 594.6 294.0 588.0 Q295.6 594.9 294.6 602.2 Z" fill="#0c140c" stroke="#0c140c" stroke-width="0.6" stroke-linejoin="round"/>
<path d="M301.4 600.0 Q303.3 591.0 300.0 582.0 Q301.0 591.0 298.6 600.0 Z" fill="#0c140c" stroke="#0c140c" stroke-width="0.6" stroke-linejoin="round"/>
<path d="M305.4 600.3 Q309.0 592.8 308.0 584.0 Q306.8 592.2 302.6 599.7 Z" fill="#0c140c" stroke="#0c140c" stroke-width="0.6" stroke-linejoin="round"/>
<path d="M309.3 600.4 Q314.5 591.0 314.0 580.0 Q312.3 590.4 306.7 599.6 Z" fill="#0c140c" stroke="#0c140c" stroke-width="0.6" stroke-linejoin="round"/>
<path d="M313.2 600.7 Q318.7 594.5 320.0 586.0 Q316.7 593.4 310.8 599.3 Z" fill="#0c140c" stroke="#0c140c" stroke-width="0.6" stroke-linejoin="round"/>
<path d="M319.1 602.9 Q325.3 597.9 328.0 590.0 Q323.6 596.5 316.9 601.1 Z" fill="#0c140c" stroke="#0c140c" stroke-width="0.6" stroke-linejoin="round"/>
<path d="M324.9 605.1 Q331.9 601.3 336.0 594.0 Q330.5 599.6 323.1 602.9 Z" fill="#0c140c" stroke="#0c140c" stroke-width="0.6" stroke-linejoin="round"/>
<path d="M330.5 607.3 Q339.1 606.0 346.0 600.0 Q338.3 603.9 329.5 604.7 Z" fill="#0c140c" stroke="#0c140c" stroke-width="0.6" stroke-linejoin="round"/>
<path d="M336.0 609.4 Q345.0 611.3 354.0 608.0 Q345.0 609.0 336.0 606.6 Z" fill="#0c140c" stroke="#0c140c" stroke-width="0.6" stroke-linejoin="round"/>
<path class="k" stroke-width="2.200" d="M206 616 C214 612 224 612 232 614 M214 634 C222 630 234 630 244 632 M286 614 C298 610 312 612 322 618 M330 612 C340 610 350 612 358 616 M300 620 C310 618 318 620 326 626"/>
<g class="k" stroke="#2c2c2c" stroke-width="2.100" stroke-dasharray="0.900 3.700">
<path d="M278 474 C282 480 276 486 282 492 C286 498 280 504 284 510"/>
<path d="M300 478 C306 484 300 490 306 496 C310 502 304 510 306 518"/>
<path d="M346 486 C336 488 330 494 334 502 C336 510 328 514 326 522"/>
</g>
</g>
<g id="barrel">
<defs><linearGradient id="bg" x1="0" x2="1"><stop offset="0" stop-color="#e39a78"/><stop offset="0.1" stop-color="#eaa888"/><stop offset="0.14" stop-color="#d8916a"/><stop offset="0.22" stop-color="#da946e"/><stop offset="0.27" stop-color="#e9a684"/><stop offset="0.38" stop-color="#eeb294"/><stop offset="0.43" stop-color="#f6dccb"/><stop offset="0.5" stop-color="#fae8dc"/><stop offset="0.57" stop-color="#f4d2be"/><stop offset="0.62" stop-color="#eeb294"/><stop offset="0.8" stop-color="#eaa684"/><stop offset="1" stop-color="#df9070"/></linearGradient></defs>
<!-- grass patch -->
<path d="M408 676 L430 668 L420 660 L450 652 L480 648 L520 646 L560 650 L640 652 L690 656 L720 662 L742 672 L756 684 L730 688 L748 698 L716 704 L724 714 L690 718 L660 726 L620 730 L560 734 L500 732 L470 726 L440 722 L452 712 L424 706 L436 696 L412 690 L428 682 Z" fill="#c0e0a2" stroke="#d8ecc4" stroke-width="2" stroke-linejoin="round"/>
<!-- body -->
<path d="M506 500 C507 540 510 600 510 640 C510 670 512 690 516 700 C540 712 620 712 652 696 C656 660 658 600 660 560 C662 540 668 520 670 500 C640 530 540 530 506 500 Z" fill="url(#bg)" stroke="#111" stroke-width="2.900" stroke-linejoin="round"/>
<!-- rim -->
<ellipse cx="588" cy="499" rx="83" ry="23.500" fill="#e49c7a" stroke="#111" stroke-width="2.900"/>
<ellipse cx="590" cy="498" rx="72" ry="15.500" fill="#c9d6e6" stroke="#111" stroke-width="2"/>
<path d="M520 497 C540 486 640 484 660 496 C640 492 545 492 520 497 Z" fill="#8fa4c4"/>
<path d="M530 503 C560 512 620 512 650 503 C630 508 560 509 530 503 Z" fill="#f4f6fa"/>
<!-- rings -->
<path class="k" stroke-width="2" d="M509 556 C540 578 630 580 660 560 M510 565 C540 586 630 588 659 568"/>
<path class="k" stroke-width="2" d="M511 640 C540 656 600 660 652 648 M512 648 C545 663 600 666 652 655" stroke-dasharray="60 6 80 4"/>
<!-- drips -->
<path d="M546 517 L552 522 L556 532 L556 548 L560 532 L566 524 L576 522 L586 518 L600 516 L604 512 C590 516 560 516 546 512 Z" fill="#e8e8ee" stroke="#111" stroke-width="1.500" stroke-linejoin="round"/>
<path d="M606 588 L610 600 L614 592 L616 618 L620 596 L626 604 L630 588 L628 584 L612 584 Z" fill="#e8e8ee" stroke="#111" stroke-width="1.500" stroke-linejoin="round"/>
<!-- hatch -->
<path class="k" stroke-width="1.400" d="M520 530 L524 548 M524 528 L529 550 M528 534 L531 548 M652 520 L648 548 M656 524 L652 556 M648 590 L644 626 M652 596 L649 632 M644 600 L642 620 M516 590 L518 612 M520 596 L522 618 M518 664 L520 684 M522 668 L524 690 M526 664 L528 680 M646 664 L644 688"/>
<path class="k" stroke-width="1.400" d="M504 490 C500 498 504 504 506 510 M508 506 L508 520"/>
<!-- grass -->
<path d="M452 690 C460 672 476 660 494 656 C504 654 510 660 512 672 L516 700 C520 706 530 708 540 708 C520 716 480 714 452 704 Z" fill="#8ecb7c"/>
<path d="M486.6 666.7 Q479.7 660.6 470.0 660.0 Q478.7 662.6 485.4 669.3 Z" fill="#0c140c" stroke="#0c140c" stroke-width="0.6" stroke-linejoin="round"/>
<path d="M489.1 665.2 Q486.0 656.8 478.0 652.0 Q484.2 658.2 486.9 666.8 Z" fill="#0c140c" stroke="#0c140c" stroke-width="0.6" stroke-linejoin="round"/>
<path d="M495.3 663.6 Q494.8 653.7 488.0 646.0 Q492.6 654.5 492.7 664.4 Z" fill="#0c140c" stroke="#0c140c" stroke-width="0.6" stroke-linejoin="round"/>
<path d="M501.4 664.0 Q504.4 653.0 500.0 642.0 Q502.2 653.0 498.6 664.0 Z" fill="#0c140c" stroke="#0c140c" stroke-width="0.6" stroke-linejoin="round"/>
<path d="M505.3 664.4 Q509.2 657.9 508.0 650.0 Q507.0 657.3 502.7 663.6 Z" fill="#0c140c" stroke="#0c140c" stroke-width="0.6" stroke-linejoin="round"/>
<path d="M480.3 670.6 Q471.8 666.2 462.0 668.0 Q471.4 668.4 479.7 673.4 Z" fill="#0c140c" stroke="#0c140c" stroke-width="0.6" stroke-linejoin="round"/>
<path d="M477.7 674.6 Q467.2 673.9 458.0 680.0 Q467.6 676.1 478.3 677.4 Z" fill="#0c140c" stroke="#0c140c" stroke-width="0.6" stroke-linejoin="round"/>
<path d="M484.4 680.7 Q476.3 675.2 466.0 676.0 Q475.5 677.4 483.6 683.3 Z" fill="#0c140c" stroke="#0c140c" stroke-width="0.6" stroke-linejoin="round"/>
<path d="M487.7 684.6 Q479.1 684.5 472.0 690.0 Q479.7 686.7 488.3 687.4 Z" fill="#0c140c" stroke="#0c140c" stroke-width="0.6" stroke-linejoin="round"/>
<path d="M493.3 688.8 Q483.0 691.3 476.0 700.0 Q484.0 693.3 494.7 691.2 Z" fill="#0c140c" stroke="#0c140c" stroke-width="0.6" stroke-linejoin="round"/>
<path d="M499.0 691.0 Q490.1 696.1 486.0 706.0 Q491.7 697.7 501.0 693.0 Z" fill="#0c140c" stroke="#0c140c" stroke-width="0.6" stroke-linejoin="round"/>
<path d="M504.8 693.3 Q498.9 699.2 498.0 708.0 Q500.9 700.4 507.2 694.7 Z" fill="#0c140c" stroke="#0c140c" stroke-width="0.6" stroke-linejoin="round"/>
<path d="M474.1 694.6 Q463.4 690.6 452.0 694.0 Q463.2 692.8 473.9 697.4 Z" fill="#0c140c" stroke="#0c140c" stroke-width="0.6" stroke-linejoin="round"/>
<path d="M469.7 698.6 Q459.2 697.9 450.0 704.0 Q459.6 700.1 470.3 701.4 Z" fill="#0c140c" stroke="#0c140c" stroke-width="0.6" stroke-linejoin="round"/>
<path d="M513.2 700.8 Q518.7 695.8 520.0 688.0 Q516.9 694.6 510.8 699.2 Z" fill="#0c140c" stroke="#0c140c" stroke-width="0.6" stroke-linejoin="round"/>
<path d="M519.1 702.9 Q525.7 698.2 528.0 690.0 Q523.9 696.8 516.9 701.1 Z" fill="#0c140c" stroke="#0c140c" stroke-width="0.6" stroke-linejoin="round"/>
<path d="M524.9 705.1 Q532.2 701.7 536.0 694.0 Q530.8 699.9 523.1 702.9 Z" fill="#0c140c" stroke="#0c140c" stroke-width="0.6" stroke-linejoin="round"/>
<path d="M530.2 707.4 Q538.4 708.5 546.0 704.0 Q538.2 706.3 529.8 704.6 Z" fill="#0c140c" stroke="#0c140c" stroke-width="0.6" stroke-linejoin="round"/>
<path d="M535.7 709.4 Q545.2 714.1 556.0 712.0 Q545.6 711.9 536.3 706.6 Z" fill="#0c140c" stroke="#0c140c" stroke-width="0.6" stroke-linejoin="round"/>
<path d="M496.9 679.1 Q504.2 675.7 508.0 668.0 Q502.8 673.9 495.1 676.9 Z" fill="#0c140c" stroke="#0c140c" stroke-width="0.6" stroke-linejoin="round"/>
<path d="M492.7 685.2 Q500.8 683.1 506.0 676.0 Q499.6 681.1 491.3 682.8 Z" fill="#0c140c" stroke="#0c140c" stroke-width="0.6" stroke-linejoin="round"/>
<path class="k" stroke-width="2.200" d="M456 700 C470 704 490 708 510 710 C524 712 540 712 552 710 M462 686 C470 690 480 692 490 692"/>
<path d="M659.3 675.8 Q659.8 669.5 656.0 664.0 Q657.8 669.9 656.7 676.2 Z" fill="#0c140c" stroke="#0c140c" stroke-width="0.6" stroke-linejoin="round"/>
<path d="M663.3 678.2 Q665.8 672.5 664.0 666.0 Q663.8 672.1 660.7 677.8 Z" fill="#0c140c" stroke="#0c140c" stroke-width="0.6" stroke-linejoin="round"/>
<path d="M669.2 680.4 Q672.8 674.9 672.0 668.0 Q670.8 674.3 666.8 679.6 Z" fill="#0c140c" stroke="#0c140c" stroke-width="0.6" stroke-linejoin="round"/>
<path d="M674.9 680.9 Q679.9 677.9 682.0 672.0 Q678.5 676.5 673.1 679.1 Z" fill="#0c140c" stroke="#0c140c" stroke-width="0.6" stroke-linejoin="round"/>
<path d="M660.7 688.9 Q656.4 684.6 650.0 684.0 Q655.4 686.4 659.3 691.1 Z" fill="#0c140c" stroke="#0c140c" stroke-width="0.6" stroke-linejoin="round"/>
<path d="M665.2 691.5 Q664.5 686.0 660.0 682.0 Q662.5 686.8 662.8 692.5 Z" fill="#0c140c" stroke="#0c140c" stroke-width="0.6" stroke-linejoin="round"/>
<path d="M671.3 694.3 Q673.5 689.5 672.0 684.0 Q671.5 689.1 668.7 693.7 Z" fill="#0c140c" stroke="#0c140c" stroke-width="0.6" stroke-linejoin="round"/>
<path d="M676.8 695.0 Q681.5 693.0 684.0 688.0 Q680.3 691.4 675.2 693.0 Z" fill="#0c140c" stroke="#0c140c" stroke-width="0.6" stroke-linejoin="round"/>
<path d="M682.2 695.3 Q688.5 695.8 694.0 692.0 Q688.1 693.8 681.8 692.7 Z" fill="#0c140c" stroke="#0c140c" stroke-width="0.6" stroke-linejoin="round"/>
<path class="k" stroke-width="2" d="M674 674 C684 672 696 674 708 678 M640 698 C650 702 664 702 676 698 M644 706 L656 702 M650 710 L662 706 M622 694 L634 698 L632 690 L642 700"/>
<!-- flies -->
<g class="k" stroke="#2c2c2c" stroke-width="2.100" stroke-dasharray="0.900 3.700">
<path d="M524 440 C530 432 540 436 538 444 C536 450 528 450 530 456 C536 460 546 458 552 462 C556 466 558 472 558 478"/>
<path d="M586 438 C592 444 596 450 590 456 C584 460 588 468 584 472"/>
<path d="M618 474 C626 468 636 470 644 466 C654 464 664 470 672 468 C680 470 686 472 690 476"/>
</g>
</g>

<g id="wall">
<defs>
<filter id="spk" x="0" y="0" width="100%" height="100%">
<feTurbulence type="fractalNoise" baseFrequency="0.9" numOctaves="2" seed="3" result="n"/>
<feColorMatrix in="n" type="matrix" values="0 0 0 0 0  0 0 0 0 0  0 0 0 0 0  3 3 0 0 -3.15" result="a"/>
<feFlood flood-color="#808088" result="f"/>
<feComposite in="f" in2="a" operator="in" result="sp"/>
<feComposite in="sp" in2="SourceGraphic" operator="in" result="spc"/>
<feMerge><feMergeNode in="SourceGraphic"/><feMergeNode in="spc"/></feMerge>
</filter>
</defs>
<path id="wallshape" d="M782 462 L830 463 L900 466 L1000 472 L1078 477 L1078 641 L1042 643 L1038 652 L1020 656 L1000 664 L975 662 L955 668 L930 662 L905 666 L885 658 L866 660 L852 652 L838 640 L828 632 L812 626 L800 612 L786 604 L772 590 L766 574 L770 556 L764 540 L768 520 L764 506 L772 494 L770 480 L776 470 Z" fill="#e4e4e8" filter="url(#spk)"/>
<path d="M782 462 L776 470 L770 480 L772 494 L764 506 L768 520 L764 540 L770 556 L766 574 L772 590 L786 604 L800 612 L812 626 L828 632 L838 640 L852 652 L866 660 L885 658 L905 666 L930 662 L955 668 L975 662 L1000 664 L1020 656 L1038 652 L1042 643 L1078 641" fill="none" stroke="#fff" stroke-width="7" opacity="0.750" filter="url(#b3)"/>
<!-- grey bottom mortar -->
<path d="M853 638 L1039 644 M930 641 L930 664" stroke="#b4b4b8" stroke-width="5" fill="none" opacity="0.9"/>
<!-- mortar -->
<g class="k" stroke-width="2.700" stroke="#161616">
<path d="M806 466 L1078 480" stroke-dasharray="38 5 60 4 25 6 70 5"/>
<path d="M803 510 L1078 523" stroke-dasharray="30 5 80 4 45 6 60 5"/>
<path d="M812 554 L1078 564" stroke-dasharray="10 4 60 5 12 4 90 4 50 5"/>
<path d="M810 597 L1078 604" stroke-dasharray="50 6 20 4 70 5 45 4"/>
<path d="M851 470 L850 510 M943 474 C945 490 940 500 943 514 M1019 478 L1019 519"/>
<path d="M808 512 L808 553 M897 515 L896 557 M981 519 L981 560 M1066 523 L1066 563" />
<path d="M849 556 L849 597 M941 559 L940 600 M1017 562 L1016 602"/>
<path d="M805 600 L805 624 M889 600 C892 612 886 624 890 636 M977 603 C980 618 974 630 978 641 M1063 604 L1062 642" stroke-dasharray="26 4 18 3"/>
</g>
<path class="k" stroke-width="1.200" stroke="#333" d="M946 476 L946 512 M811 514 L811 550 M892 602 L893 634 M980 606 L981 638" stroke-dasharray="8 5"/>
<!-- top grass -->
<g stroke="#111" stroke-width="1.800" stroke-linejoin="round" stroke-linecap="round">
<path d="M794 461 L797 452 L802 456 L807 448 L811 455 L816 455 L820 458 L814 461 Z" fill="#9ecfd0"/>
<path d="M826 463 L829 452 L832 458 L836 450 L840 457 L845 449 L849 458 L853 456 L858 462 L850 464 Z" fill="#e6e6e2"/>
<path d="M866 465 L869 454 L873 460 L879 448 L882 458 L887 456 L889 462 L894 458 L898 466 Z" fill="#d8cfa8"/>
<path d="M907 466 L909 456 L914 460 L918 454 L922 460 L928 456 L929 467 Z" fill="#e6e6e2"/>
<path d="M942 468 L947 460 L952 456 L955 462 L961 455 L964 464 L972 468 L960 470 Z" fill="#c6d990"/>
<path d="M980 460 L984 454 L989 458 L994 449 L997 462 L1001 466 L992 470 L984 466 Z" fill="#a9a9a9"/>
<path d="M1008 472 L1012 466 L1016 470 L1022 462 L1026 470 L1030 466 L1034 474" fill="#e6e6e2"/>
<path d="M1046 474 L1050 466 L1054 472 L1060 464 L1064 472 L1070 468 L1076 476" fill="#e6e6e2"/>
<path d="M893 466 L896 459 L899 464 L903 458 L905 466" fill="#e6e6e2"/>
<path d="M968 470 L971 463 L974 468 L978 462 L980 470" fill="#dfe6d0"/>
<path d="M1034 474 L1037 466 L1040 472 L1044 467 L1046 475" fill="#e6e6e2"/>
<path d="M858 463 L861 457 L864 464" fill="#e6e6e2"/>
<path d="M792 461 L830 463 L900 467 L1000 472 L1078 477" fill="none" stroke-width="2.200"/>
</g>
<!-- specks -->
<g fill="#222"><circle cx="807" cy="482" r="1"/><circle cx="817" cy="498" r="0.900"/><circle cx="865" cy="495" r="1"/><circle cx="874" cy="548" r="1"/><circle cx="878" cy="552" r="0.800"/><circle cx="963" cy="548" r="1"/><circle cx="1004" cy="548" r="1"/><circle cx="1008" cy="552" r="0.900"/><circle cx="1012" cy="498" r="1"/><circle cx="1046" cy="622" r="1"/></g>
<!-- flies -->
<g class="k" stroke="#2c2c2c" stroke-width="2.100" stroke-dasharray="0.900 3.700">
<path d="M829 410 C836 416 844 420 852 418 C860 416 868 420 866 428 C862 434 850 432 846 440 C844 446 846 452 846 456"/>
<path d="M938 392 C944 398 950 406 952 416 C954 426 950 436 954 444"/>
<path d="M902 424 C906 430 912 436 914 444 C916 450 916 456 918 460"/>
</g>
</g>

<g id="vase">
<ellipse cx="971" cy="298.500" rx="79" ry="16.500" fill="#a0ccf7"/>
<g class="k" stroke-width="1.600">
<path d="M967 96 C972 110 984 130 990 150 C994 170 996 200 998 232"/>
<path d="M935 106 C930 90 926 78 928 70 C929 64 936 62 937 68 C937 72 933 72 932 69"/>
<path d="M1028 104 C1022 120 1016 140 1012 160 C1006 190 1000 215 996 236"/>
<path d="M1024 160 C1016 180 1006 210 1002 236"/>
<path d="M946 150 C958 170 972 200 984 236"/>
</g>
<path d="M933 106 C928 90 924 78 926 70 C927 62 938 60 939 68 C939 73 932 74 931 69 C931 67 934 67 934 69 C935 66 931 66 930.500 70 C929 80 934 92 938 106 Z" fill="#9db49a" stroke="#111" stroke-width="1.200"/>
<path d="M941.0 114.0 Q936.6 91.9 915.5 84.0 Q919.9 106.1 941.0 114.0 Z" fill="#9ab8aa" stroke="#111" stroke-width="1.8" stroke-linejoin="round"/><path d="M937.2 109.5 L920.6 90.0" stroke="#111" stroke-width="1" fill="none"/>
<path d="M927.5 131.0 Q918.5 121.5 906.0 125.5 Q915.0 135.0 927.5 131.0 Z" fill="#b4cba6" stroke="#111" stroke-width="1.8" stroke-linejoin="round"/><path d="M924.3 130.2 L910.3 126.6" stroke="#111" stroke-width="1" fill="none"/>
<path d="M991.5 126.0 Q1013.3 101.3 1010.5 68.5 Q988.7 93.2 991.5 126.0 Z" fill="#8eb29e" stroke="#111" stroke-width="1.8" stroke-linejoin="round"/><path d="M994.4 117.4 L1006.7 80.0" stroke="#111" stroke-width="1" fill="none"/>
<path d="M990.0 135.0 Q979.4 113.1 956.0 106.5 Q966.6 128.4 990.0 135.0 Z" fill="#a9c690" stroke="#111" stroke-width="1.8" stroke-linejoin="round"/><path d="M984.9 130.7 L962.8 112.2" stroke="#111" stroke-width="1" fill="none"/>
<path d="M1020.0 123.5 Q1023.9 108.1 1012.5 97.0 Q1008.6 112.4 1020.0 123.5 Z" fill="#a3bfa0" stroke="#111" stroke-width="1.8" stroke-linejoin="round"/><path d="M1018.9 119.5 L1014.0 102.3" stroke="#111" stroke-width="1" fill="none"/>
<path d="M1020.0 123.5 Q1036.2 125.5 1045.5 112.0 Q1029.3 110.0 1020.0 123.5 Z" fill="#a5c482" stroke="#111" stroke-width="1.8" stroke-linejoin="round"/><path d="M1023.8 121.8 L1040.4 114.3" stroke="#111" stroke-width="1" fill="none"/>
<path d="M1008.5 155.5 Q1011.1 138.0 998.5 125.5 Q995.9 143.0 1008.5 155.5 Z" fill="#9cb89a" stroke="#111" stroke-width="1.8" stroke-linejoin="round"/><path d="M1007.0 151.0 L1000.5 131.5" stroke="#111" stroke-width="1" fill="none"/>
<path d="M923 187 C916 174 922 160 936 158 C948 156 956 161 962 165 C948 170 934 174 923 187 Z" fill="#8fb898" stroke="#111" stroke-width="1.800" stroke-linejoin="round"/>
<path d="M928 180 C932 172 942 166 954 165" class="k" stroke-width="1"/>
<defs><linearGradient id="vg" x1="0" x2="1"><stop offset="0" stop-color="#f4f6f8"/><stop offset="0.5" stop-color="#ffffff"/><stop offset="0.75" stop-color="#d8eaf0"/><stop offset="1" stop-color="#f4f8fa"/></linearGradient></defs>
<path d="M942.500 175.500 C950 200 958 225 961 240 C960 255 956 275 950 292.500 C965 302 995 303 1009.500 296.500 C1008 280 1010 258 1015.500 238 C1022 215 1031 190 1037.500 169.500 C1010 178 965 180 942.500 175.500 Z" fill="url(#vg)" fill-opacity="0.820" stroke="#111" stroke-width="2.200" stroke-linejoin="round"/>
<path d="M961 240 C975 244 1000 243 1015.500 238 C1010 258 1008 280 1009.500 296.500 C995 303 965 302 950 292.500 C956 275 960 255 961 240 Z" fill="#dbe9ef" fill-opacity="0.850"/>
<path class="k" stroke-width="1.400" d="M961 240 C975 245 1000 244 1015.500 238 M962 236 C976 240 1000 239 1016 234"/>
<g stroke="#5d8a6a" stroke-width="2.200" fill="none"><path d="M984 236 L976 262 M996 232 L994 270 M1002 236 L1010 268 M998 232 L988 250"/></g>
<g class="k" stroke-width="1"><path d="M984 236 L975 262 M996 232 L993 270 M1003 236 L1011 268 M986 236 L978 262 M998 232 L996 270"/></g>
<path d="M984.0 236.0 Q981.8 214.9 972.0 196.0 Q974.2 217.1 984.0 236.0 Z" fill="#8fb08a" stroke="#111" stroke-width="1.4" stroke-linejoin="round"/>
<path d="M942.500 175.500 C960 168 1015 163 1037.500 169.500 C1015 179 965 181 942.500 175.500 Z" fill="#fafcfd" fill-opacity="0.550" stroke="#111" stroke-width="2"/>
<g class="k" stroke-width="1.300"><path d="M951 186 L966 232 M956 186 L969 228 M951 186 L956 186 M1022 184 L1008 226" /><path d="M1018 196 L1012 216 M1010 222 L1007 232" stroke-dasharray="5 3"/><path d="M958 290 C970 296 992 297 1004 292"/><path d="M966 268 C964 272 966 276 969 277 M991 274 C994 272 998 274 997 278 M962 282 C964 280 968 281 968 284 M968 252 L971 258"/></g>
<path d="M1004 192 L1016 190 L1004 230 L996 232 Z" fill="#cfe6ee" opacity="0.700"/>
<ellipse cx="980.3" cy="80.8" rx="8.8" ry="6.1" transform="rotate(10.0 980.3 80.8)" fill="#e4e678" stroke="#1a1a0a" stroke-width="1.700"/><ellipse cx="975.0" cy="89.2" rx="8.8" ry="6.1" transform="rotate(55.0 975.0 89.2)" fill="#e4e678" stroke="#1a1a0a" stroke-width="1.700"/><ellipse cx="965.2" cy="91.3" rx="8.8" ry="6.1" transform="rotate(100.0 965.2 91.3)" fill="#e4e678" stroke="#1a1a0a" stroke-width="1.700"/><ellipse cx="956.8" cy="86.0" rx="8.8" ry="6.1" transform="rotate(145.0 956.8 86.0)" fill="#e4e678" stroke="#1a1a0a" stroke-width="1.700"/><ellipse cx="954.7" cy="76.2" rx="8.8" ry="6.1" transform="rotate(190.0 954.7 76.2)" fill="#e4e678" stroke="#1a1a0a" stroke-width="1.700"/><ellipse cx="960.0" cy="67.8" rx="8.8" ry="6.1" transform="rotate(235.0 960.0 67.8)" fill="#e4e678" stroke="#1a1a0a" stroke-width="1.700"/><ellipse cx="969.8" cy="65.7" rx="8.8" ry="6.1" transform="rotate(280.0 969.8 65.7)" fill="#e4e678" stroke="#1a1a0a" stroke-width="1.700"/><ellipse cx="978.2" cy="71.0" rx="8.8" ry="6.1" transform="rotate(325.0 978.2 71.0)" fill="#e4e678" stroke="#1a1a0a" stroke-width="1.700"/><circle cx="967.5" cy="78.5" r="6.9" fill="#c0506a" stroke="#3a1a10" stroke-width="1.600"/>
<ellipse cx="1028.5" cy="78.9" rx="7.6" ry="5.2" transform="rotate(-95.0 1028.5 78.9)" fill="#efe04a" stroke="#1a1a0a" stroke-width="1.700"/><ellipse cx="1037.6" cy="82.3" rx="7.6" ry="5.2" transform="rotate(-43.6 1037.6 82.3)" fill="#ece27e" stroke="#1a1a0a" stroke-width="1.700"/><ellipse cx="1040.6" cy="91.5" rx="7.6" ry="5.2" transform="rotate(7.9 1040.6 91.5)" fill="#ece27e" stroke="#1a1a0a" stroke-width="1.700"/><ellipse cx="1035.2" cy="99.6" rx="7.6" ry="5.2" transform="rotate(59.3 1035.2 99.6)" fill="#ece27e" stroke="#1a1a0a" stroke-width="1.700"/><ellipse cx="1025.6" cy="100.4" rx="7.6" ry="5.2" transform="rotate(110.7 1025.6 100.4)" fill="#ece27e" stroke="#1a1a0a" stroke-width="1.700"/><ellipse cx="1018.9" cy="93.4" rx="7.6" ry="5.2" transform="rotate(162.1 1018.9 93.4)" fill="#ece27e" stroke="#1a1a0a" stroke-width="1.700"/><ellipse cx="1020.2" cy="83.8" rx="7.6" ry="5.2" transform="rotate(213.6 1020.2 83.8)" fill="#ece27e" stroke="#1a1a0a" stroke-width="1.700"/><circle cx="1029.5" cy="90.0" r="5.9" fill="#cc4a50" stroke="#3a1a10" stroke-width="1.600"/>
<ellipse cx="950.5" cy="139.4" rx="8.6" ry="5.9" transform="rotate(25.0 950.5 139.4)" fill="#e4e678" stroke="#1a1a0a" stroke-width="1.700"/><ellipse cx="943.3" cy="145.9" rx="8.6" ry="5.9" transform="rotate(70.0 943.3 145.9)" fill="#e4e678" stroke="#1a1a0a" stroke-width="1.700"/><ellipse cx="933.6" cy="145.5" rx="8.6" ry="5.9" transform="rotate(115.0 933.6 145.5)" fill="#e4e678" stroke="#1a1a0a" stroke-width="1.700"/><ellipse cx="927.1" cy="138.3" rx="8.6" ry="5.9" transform="rotate(160.0 927.1 138.3)" fill="#e4e678" stroke="#1a1a0a" stroke-width="1.700"/><ellipse cx="927.5" cy="128.6" rx="8.6" ry="5.9" transform="rotate(205.0 927.5 128.6)" fill="#e4e678" stroke="#1a1a0a" stroke-width="1.700"/><ellipse cx="934.7" cy="122.1" rx="8.6" ry="5.9" transform="rotate(250.0 934.7 122.1)" fill="#e4e678" stroke="#1a1a0a" stroke-width="1.700"/><ellipse cx="944.4" cy="122.5" rx="8.6" ry="5.9" transform="rotate(295.0 944.4 122.5)" fill="#e4e678" stroke="#1a1a0a" stroke-width="1.700"/><ellipse cx="950.9" cy="129.7" rx="8.6" ry="5.9" transform="rotate(340.0 950.9 129.7)" fill="#e4e678" stroke="#1a1a0a" stroke-width="1.700"/><circle cx="939.0" cy="134.0" r="6.8" fill="#c46080" stroke="#3a1a10" stroke-width="1.600"/>
<ellipse cx="992.2" cy="158.6" rx="8.6" ry="5.9" transform="rotate(5.0 992.2 158.6)" fill="#e4e678" stroke="#1a1a0a" stroke-width="1.700"/><ellipse cx="987.7" cy="167.2" rx="8.6" ry="5.9" transform="rotate(50.0 987.7 167.2)" fill="#e4e678" stroke="#1a1a0a" stroke-width="1.700"/><ellipse cx="978.4" cy="170.2" rx="8.6" ry="5.9" transform="rotate(95.0 978.4 170.2)" fill="#e4e678" stroke="#1a1a0a" stroke-width="1.700"/><ellipse cx="969.8" cy="165.7" rx="8.6" ry="5.9" transform="rotate(140.0 969.8 165.7)" fill="#e4e678" stroke="#1a1a0a" stroke-width="1.700"/><ellipse cx="966.8" cy="156.4" rx="8.6" ry="5.9" transform="rotate(185.0 966.8 156.4)" fill="#e4e678" stroke="#1a1a0a" stroke-width="1.700"/><ellipse cx="971.3" cy="147.8" rx="8.6" ry="5.9" transform="rotate(230.0 971.3 147.8)" fill="#e4e678" stroke="#1a1a0a" stroke-width="1.700"/><ellipse cx="980.6" cy="144.8" rx="8.6" ry="5.9" transform="rotate(275.0 980.6 144.8)" fill="#e4e678" stroke="#1a1a0a" stroke-width="1.700"/><ellipse cx="989.2" cy="149.3" rx="8.6" ry="5.9" transform="rotate(320.0 989.2 149.3)" fill="#e4e678" stroke="#1a1a0a" stroke-width="1.700"/><circle cx="979.5" cy="157.5" r="6.8" fill="#c04a60" stroke="#3a1a10" stroke-width="1.600"/>
<ellipse cx="1040.6" cy="149.0" rx="7.8" ry="5.4" transform="rotate(15.0 1040.6 149.0)" fill="#e4e678" stroke="#1a1a0a" stroke-width="1.700"/><ellipse cx="1035.2" cy="155.9" rx="7.8" ry="5.4" transform="rotate(60.0 1035.2 155.9)" fill="#e4e678" stroke="#1a1a0a" stroke-width="1.700"/><ellipse cx="1026.5" cy="157.1" rx="7.8" ry="5.4" transform="rotate(105.0 1026.5 157.1)" fill="#e4e678" stroke="#1a1a0a" stroke-width="1.700"/><ellipse cx="1019.6" cy="151.7" rx="7.8" ry="5.4" transform="rotate(150.0 1019.6 151.7)" fill="#e4e678" stroke="#1a1a0a" stroke-width="1.700"/><ellipse cx="1018.4" cy="143.0" rx="7.8" ry="5.4" transform="rotate(195.0 1018.4 143.0)" fill="#e4e678" stroke="#1a1a0a" stroke-width="1.700"/><ellipse cx="1023.8" cy="136.1" rx="7.8" ry="5.4" transform="rotate(240.0 1023.8 136.1)" fill="#e4e678" stroke="#1a1a0a" stroke-width="1.700"/><ellipse cx="1032.5" cy="134.9" rx="7.8" ry="5.4" transform="rotate(285.0 1032.5 134.9)" fill="#e4e678" stroke="#1a1a0a" stroke-width="1.700"/><ellipse cx="1039.4" cy="140.3" rx="7.8" ry="5.4" transform="rotate(330.0 1039.4 140.3)" fill="#e4e678" stroke="#1a1a0a" stroke-width="1.700"/><circle cx="1029.5" cy="146.0" r="6.1" fill="#c25078" stroke="#3a1a10" stroke-width="1.600"/>
<g class="k" stroke="#2c2c2c" stroke-width="2.100" stroke-dasharray="0.900 3.700">
<path d="M894 34 L904 42 L910.500 46 L908 55.500 L920 63"/>
<path d="M913.500 18.500 L921 20 L926 27 L939 30 L951.500 36 L961.500 29 L973 38 L985 36 L989.500 44.500 L995 61 L999 67"/>
<path d="M1031 26 L1023 33 L1024 46 L1016.500 54 L1013 57.500 L1017 64 L1019 70.500"/>
<path d="M882 185.500 L900 175 L910 171 L912 159 L924.500 155"/>
</g>
</g>
<g id="arrows">
<g fill="#f2867a" filter="url(#b1)" opacity="0.9">
<path d="M514 116 L545 107 L547 118 C575 128 612 165 625 221 C608 180 580 148 538 132 L535 141 Z" stroke="#f2867a" stroke-width="2.500"/>
<path d="M690 216 C700 170 745 118 815 118 L817 106 L859 136 L821 161 L819 147 C770 143 720 170 690 216 Z" stroke="#f2867a" stroke-width="2.500"/>
<path d="M541 277 C505 238 420 215 304 256 L298 249 L244 286 L310 290 L307 277 C400 240 480 246 541 277 Z" stroke="#f2867a" stroke-width="2.500"/>
<path d="M514 316.500 C440 318 375 370 340 424 L333 414 L329 471 L377 441 L366.500 435 C395 380 450 330 514 316.500 Z" stroke="#f2867a" stroke-width="2.500"/>
<path d="M602 324 C570 355 558 390 559 418.500 L547 416.500 L569.500 445 L594 413 L582 415 C580 385 588 350 602 324 Z" stroke="#f2867a" stroke-width="2.500"/>
<path d="M769 326 C830 310 890 360 913 392 L918 384 L925 434 L887 414 L894.500 409 C870 365 830 328 769 326 Z" stroke="#f2867a" stroke-width="2.500"/>
</g>
<g fill="#d62a1e">
<path d="M514 116 L545 107 L547 118 C575 128 612 165 625 221 C608 180 580 148 538 132 L535 141 Z"/>
<path d="M690 216 C700 170 745 118 815 118 L817 106 L859 136 L821 161 L819 147 C770 143 720 170 690 216 Z"/>
<path d="M541 277 C505 238 420 215 304 256 L298 249 L244 286 L310 290 L307 277 C400 240 480 246 541 277 Z"/>
<path d="M514 316.500 C440 318 375 370 340 424 L333 414 L329 471 L377 441 L366.500 435 C395 380 450 330 514 316.500 Z"/>
<path d="M602 324 C570 355 558 390 559 418.500 L547 416.500 L569.500 445 L594 413 L582 415 C580 385 588 350 602 324 Z"/>
<path d="M769 326 C830 310 890 360 913 392 L918 384 L925 434 L887 414 L894.500 409 C870 365 830 328 769 326 Z"/>
</g>
</g>

<g id="mosq">
<defs>
<radialGradient id="eyeg" cx="54%" cy="64%" r="62%" fx="58%" fy="72%"><stop offset="0" stop-color="#dd3a5e"/><stop offset="0.3" stop-color="#e46480"/><stop offset="0.62" stop-color="#ee9ca8"/><stop offset="1" stop-color="#f3b8bc"/></radialGradient>
<linearGradient id="wg" x1="0" x2="1"><stop offset="0" stop-color="#ffffff"/><stop offset="1" stop-color="#eef0ee"/></linearGradient>
</defs>
<!-- antennae -->
<g class="k" stroke-width="2.200">
<path d="M606 245 C598 226 582 208 560 201 C548 198 538 199 530 203"/>
<path d="M620 241 C616 220 604 198 586 186 C578 181 570 179 562 179"/>
</g>
<g class="k" stroke-width="1.500" stroke-dasharray="1 3"><path d="M530 203 C526 205 522 207 519 209 M562 179 C558 179 554 180 551 181"/></g>
<!-- wings -->
<path d="M676 255 C664 240 644 214 636 196 C632 186 636 180 644 180 C654 182 664 196 670 212 C676 228 680 244 682 254 Z" fill="#fbfcfa" stroke="#111" stroke-width="2.200" stroke-linejoin="round"/>
<path class="k" stroke-width="1.200" d="M644 188 C652 206 664 232 674 250 M662 206 C668 222 672 236 676 248"/>
<path class="k" stroke-width="1.600" d="M632 178 C636 175 642 174 646 176 M672 196 C676 204 679 214 680 222 M677 194 C682 202 684 212 685 220"/>
<path d="M682 250 C690 230 714 212 744 206 C768 202 786 210 786 222 C786 234 770 242 750 246 C726 250 700 250 682 250 Z" fill="#fbfcfa" stroke="#111" stroke-width="2.400" stroke-linejoin="round"/>
<path class="k" stroke-width="1.200" d="M688 246 C706 228 740 214 776 214 M692 247 C716 234 750 226 782 226 M700 247 C724 242 752 238 774 236"/>
<path class="k" stroke-width="1.600" d="M722 203 C740 198 760 197 774 199 M752 258 C766 256 778 250 786 244 M760 252 C770 249 778 245 784 240 M738 262 C746 262 752 260 756 259"/>
<!-- legs -->
<g class="k" stroke-width="2.600">
<path d="M683 285 C672 300 660 316 656 326 C653 334 656 342 666 356"/>
<path d="M689 294 C682 306 675 318 673 326 C672 336 680 348 690 358"/>
<path d="M698 298 C694 312 690 326 688 338 L702 325 C704 330 705 336 705.500 342"/>
<path d="M711 300 C712 312 714 324 717 336 L743 327.500 C744 334 745 340 745 347"/>
<path d="M713 262 C720 260 728 260 732 263 C738 270 744 280 749 289"/>
<path d="M660 298 C654 302 650 306 647 311"/>
<path d="M753 350 C755 348 756 344 755.500 341 M758 352 C760 349 761 346 760.500 343 M763 352 C765 350 766 347 765.500 344"/>
</g>
<ellipse cx="704" cy="334" rx="2.600" ry="4.500" fill="#fdf6a8" stroke="#111" stroke-width="1.800"/>
<ellipse cx="745" cy="338" rx="2.800" ry="6" fill="#fdf6a8" stroke="#111" stroke-width="1.800"/>
<path d="M660 362 C662 357 670 355 677 358 C674 363 666 366 660 362 Z M685 365 C688 358 698 356 706 359 C702 365 692 369 685 365 Z" fill="#fff" stroke="#111" stroke-width="2" stroke-linejoin="round"/>
<!-- hands -->
<path d="M647 311 L640 310 L631 312 L623 313 L633 316 L626 321 L636 320 L632 328 L640 322 L640 330 L645 322 L646 315 Z" fill="#fff" stroke="#111" stroke-width="1.700" stroke-linejoin="round"/>
<path d="M749 288 L743 286 L742 294 L746 293 L747 299 L751 294 L753 300 L756 294 L761 297 L759 291 L763 290 L757 286 Z" fill="#fff" stroke="#111" stroke-width="1.700" stroke-linejoin="round"/>
<!-- body -->
<path d="M656 262 C662 257 670 255 678 254 C692 252 704 254 710 260 C718 268 720 282 722 294 C724 300 725 304 724.500 309 C718 304 712 300 706 300 C700 300 694 300 690 296 C684 288 684 276 680 268 C674 264 664 266 656 262 Z" fill="#0d0d0d" stroke="#0d0d0d" stroke-width="1.500" stroke-linejoin="round"/>
<g fill="#fff"><ellipse cx="678" cy="260" rx="3" ry="2"/><ellipse cx="690" cy="263" rx="3.200" ry="2" transform="rotate(30 690 263)"/><ellipse cx="701" cy="262" rx="2.600" ry="2"/><ellipse cx="698" cy="272" rx="2.800" ry="1.800" transform="rotate(-30 698 272)"/><ellipse cx="709" cy="275" rx="2" ry="3"/><ellipse cx="694" cy="280" rx="2.600" ry="1.600"/><ellipse cx="703" cy="283" rx="2.800" ry="1.800" transform="rotate(20 703 283)"/><ellipse cx="713" cy="285" rx="1.800" ry="3"/><ellipse cx="697" cy="290" rx="2" ry="1.500"/><ellipse cx="708" cy="292" rx="2.800" ry="1.800"/><ellipse cx="717" cy="296" rx="2.600" ry="1.600" transform="rotate(30 717 296)"/><ellipse cx="669" cy="261" rx="2" ry="1.200"/><ellipse cx="688" cy="273" rx="1.600" ry="1.200"/></g>
<path d="M684 276 C686 284 688 292 692 296" stroke="#777" stroke-width="1.500" fill="none"/>
<g class="k" stroke-width="1"><path d="M712 258 L718 254 M716 264 L723 261 M719 272 L726 270 M721 280 L727 280 M722 288 L728 290 M700 254 L702 249 M692 254 L692 249 M686 298 L684 303 M694 300 L693 305"/></g>
<!-- chest stripes -->
<path d="M632 286 C640 292 652 292 664 286 C668 280 668 272 664 266 C672 272 674 284 670 294 C664 304 650 308 636 302 C634 298 632 292 632 286 Z" fill="#0d0d0d"/>
<path d="M642 292 L646 297 L650 291 L654 297 L658 289 L661 294 L664 286 C660 290 650 294 642 292 Z" fill="#fdf6a0"/>
<path d="M638 300 L644 297 L648 302 L653 297 L657 302 L662 296 L666 298 L668 292" class="k" stroke-width="2"/>
<!-- beard -->
<path d="M604 272 C606 280 610 284 612 290 L615 283 L619 292 L622 284 L627 293 L630 285 L636 292 L638 284 L646 288 L648 281 L656 284 L660 276 C650 284 620 284 604 272 Z" fill="#0d0d0d" stroke="#0d0d0d" stroke-width="1.500" stroke-linejoin="round"/>
<!-- proboscis -->
<path d="M598 276 C580 282 548 293 520 302 C545 291 575 281 594 272 Z" fill="#0d0d0d" stroke="#0d0d0d" stroke-width="1.500" stroke-linejoin="round"/>
<path d="M580 266 C584 274 592 280 604 280 L608 272 Z" fill="#0d0d0d"/>
<!-- eyes -->
<ellipse cx="594" cy="261.500" rx="13.800" ry="14.600" fill="url(#eyeg)" stroke="#2a0a10" stroke-width="2.200"/>
<ellipse cx="630.500" cy="262" rx="23.400" ry="18" fill="url(#eyeg)" stroke="#2a0a10" stroke-width="2.400"/>
<path d="M612 272 C620 282 642 282 650 270 C642 277 622 278 612 272 Z" fill="#f6d0d4"/>
<path d="M584 270 C588 276 598 277 603 272 C598 274 590 274 584 270 Z" fill="#f6d0d4"/>
<circle cx="600.500" cy="262.500" r="2.600" fill="#fff" stroke="#5a0818" stroke-width="1.600"/>
<circle cx="637.500" cy="259" r="3" fill="#fff" stroke="#5a0818" stroke-width="1.800"/>
<!-- brows -->
<g class="k" stroke-width="1.800">
<path d="M578 248 C584 244 594 243 604 248 M574 244 L586 246 M576 240 L590 245 M582 238 L594 245 M590 240 L598 246"/>
<path d="M608 248 C616 240 636 238 650 246 M612 236 L614 244 M618 232 L619 241 M625 230 L625 240 M632 228 L631 239 M638 232 L636 240 M644 234 L641 241 M652 238 L646 243 M654 248 L660 254 M650 250 L658 258"/>
</g>
<path d="M574 247 C584 238 600 240 607 251 C598 246 586 246 574 247 Z M607 251 C616 237 642 235 656 250 C642 243 620 243 607 251 Z" fill="#0d0d0d" stroke="#0d0d0d" stroke-width="1.500" stroke-linejoin="round"/>
</g>

<g id="sign" class="k" stroke-width="1.200">
<path d="M70 636 L80 660 M76 640 L88 664 M74 650 L92 644 M88 650 C92 640 100 640 102 648 C104 656 96 658 96 652 M100 646 C106 640 112 642 110 650 C108 658 116 660 118 652 M106 640 L112 668 M110 644 C116 638 122 642 120 650 M116 646 C122 640 128 644 126 652 C124 658 130 660 134 656 M130 644 C136 636 148 638 150 648 C152 658 142 664 134 658 C128 652 132 644 140 646"/>
</g>

</svg>
</body></html>
